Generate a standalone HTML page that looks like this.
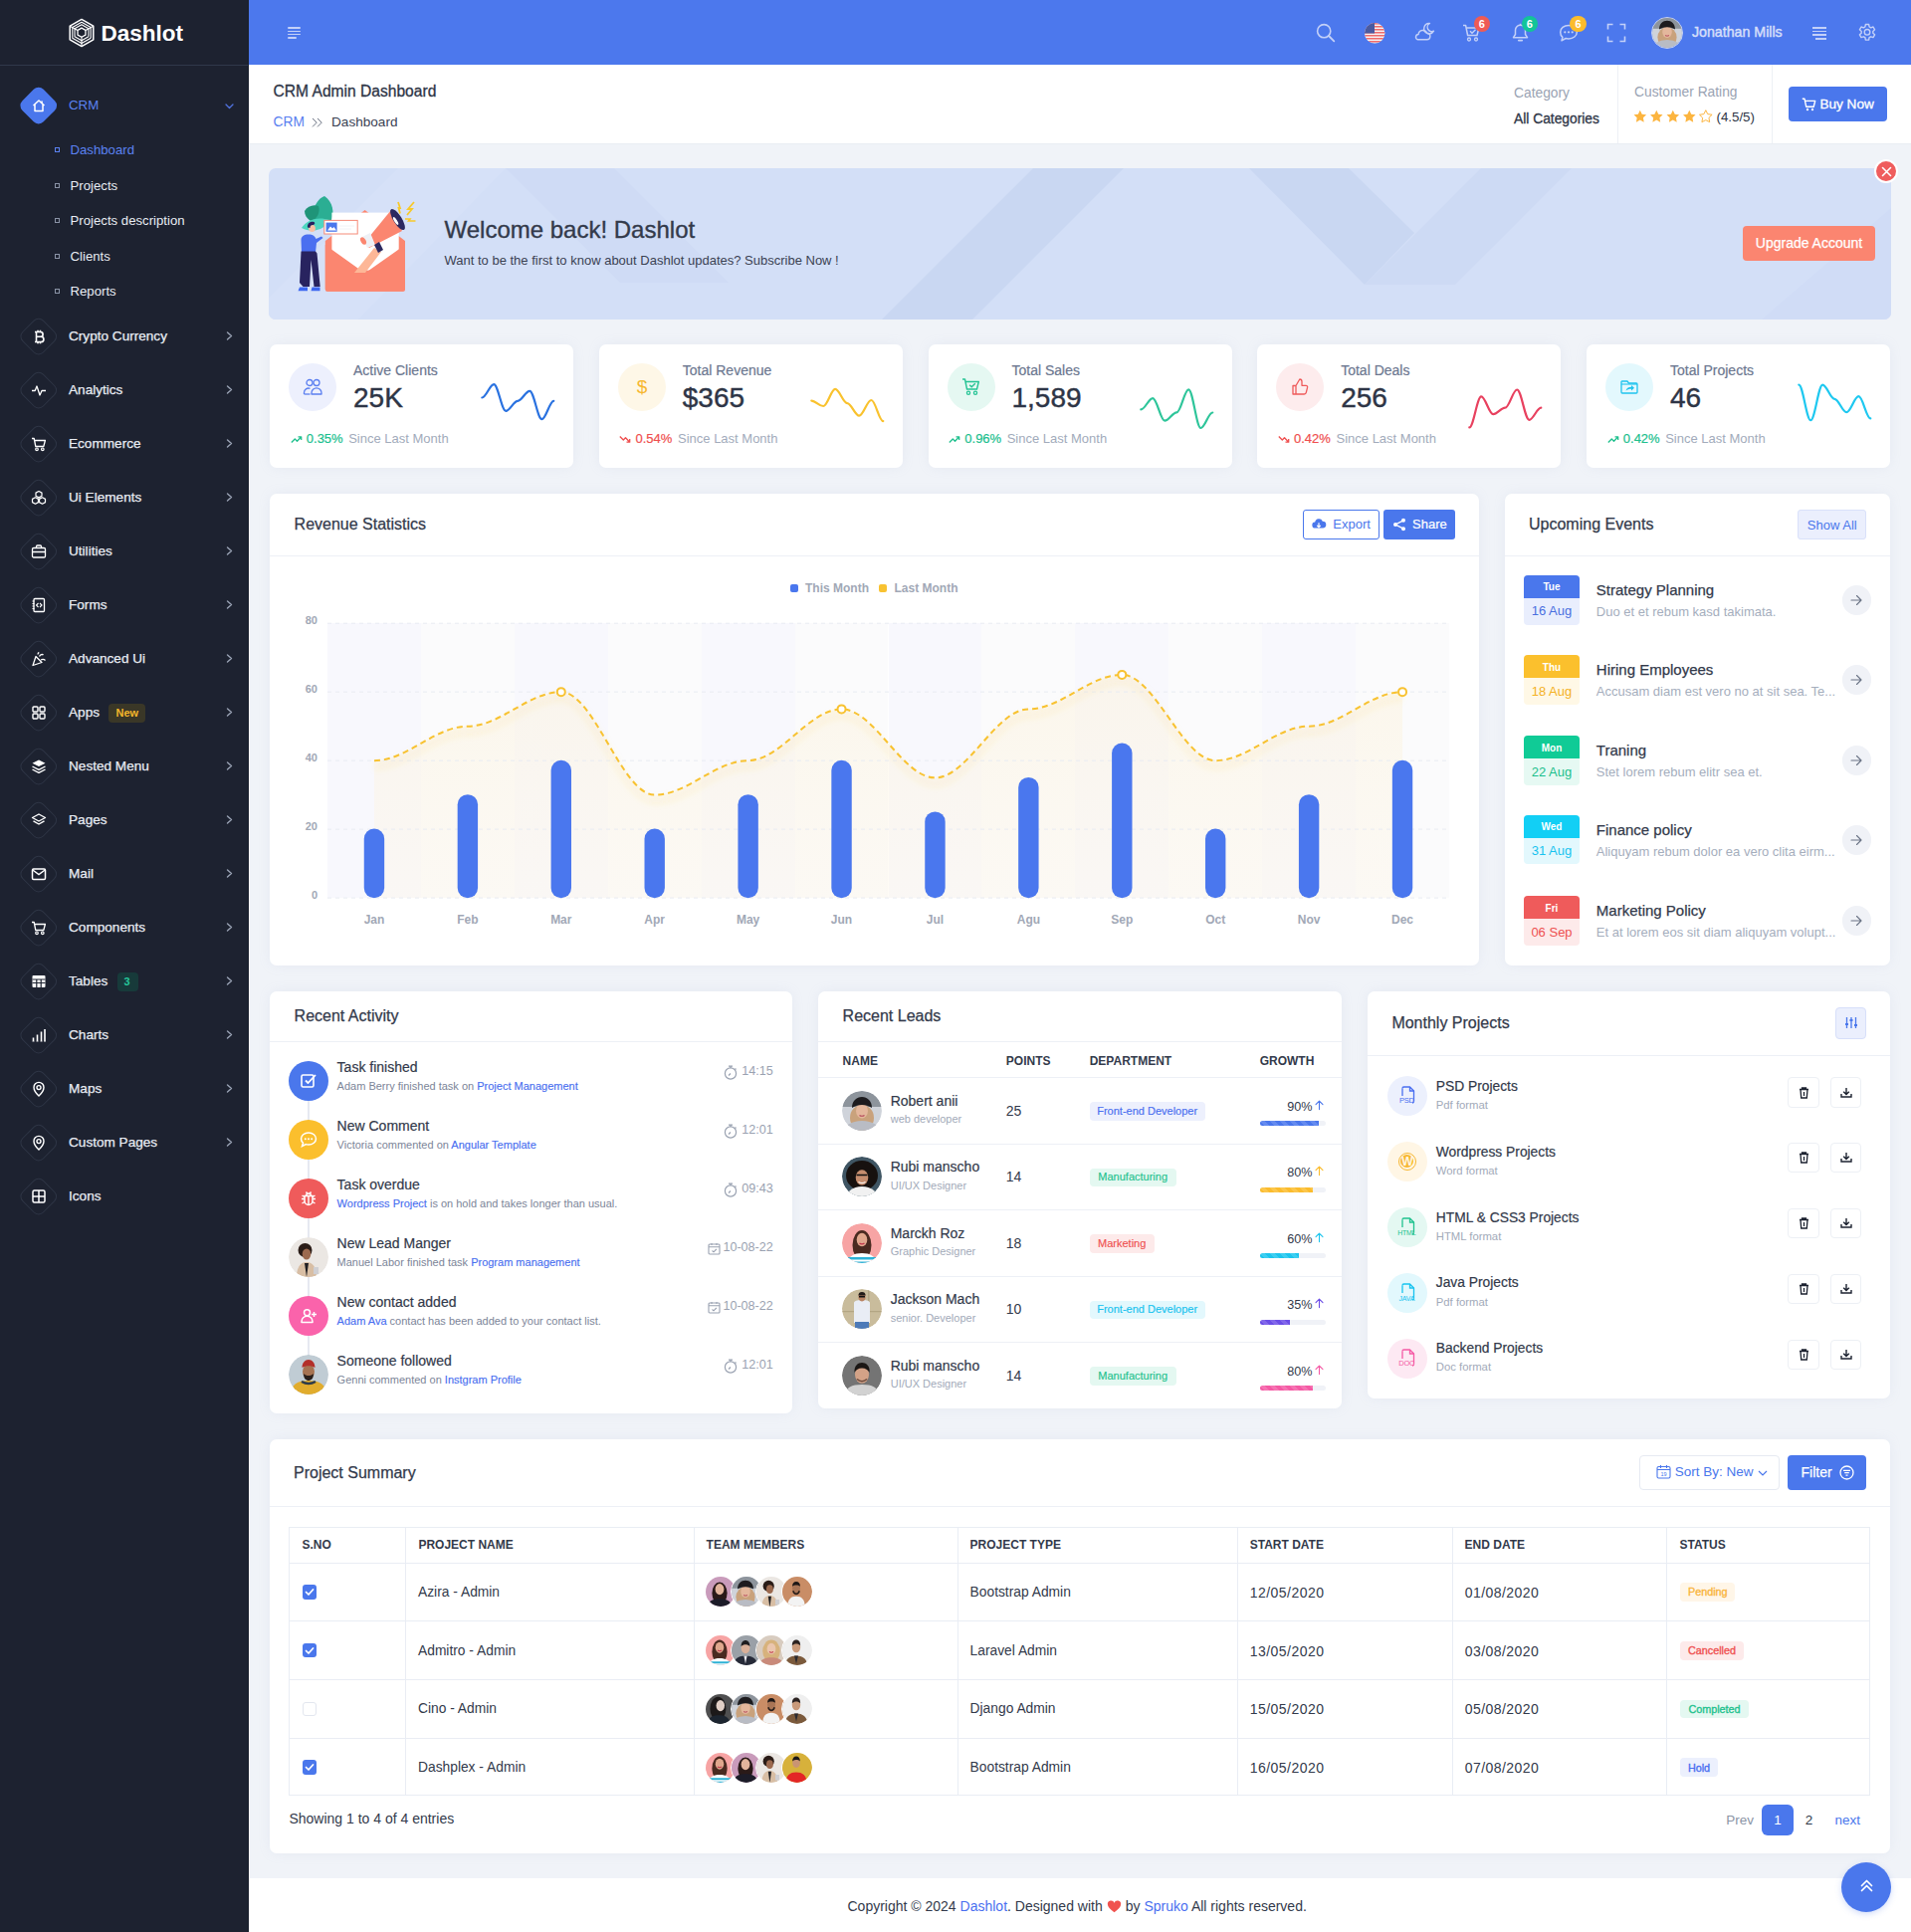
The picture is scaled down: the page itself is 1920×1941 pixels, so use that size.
<!DOCTYPE html>
<html><head><meta charset="utf-8"><title>Dashlot CRM Dashboard</title>
<style>
*{box-sizing:border-box;margin:0;padding:0}
html,body{width:1920px;height:1941px;overflow:hidden}
body{background:#f0f3f8;font-family:"Liberation Sans",sans-serif;color:#333b4c;position:relative;font-size:14px}
svg{display:block;overflow:visible}
.card{position:absolute;background:#fff;border-radius:7px;box-shadow:0 0 12px rgba(170,180,205,0.13)}
</style></head>
<body>
<!-- sidebar -->
<div style="position:absolute;left:0.0px;top:0.0px;width:250.0px;height:1941.0px;background:#1d2230;"></div>
<div style="position:absolute;left:248.0px;top:0.0px;width:1.0px;height:1941.0px;background:#1a212d;"></div>
<div style="position:absolute;left:250.0px;top:65.0px;width:1.0px;height:1876.0px;background:#fff;"></div>
<div style="position:absolute;left:0.0px;top:65.0px;width:249.0px;height:1.0px;background:#30384a;"></div>
<svg style="position:absolute;left:69.1px;top:18.8px;" width="26" height="28" viewBox="0 0 26 28" fill="none"><path d="M13.00 0.40 L24.78 7.20 L24.78 20.80 L13.00 27.60 L1.22 20.80 L1.22 7.20 Z" stroke="#fff" stroke-width="1.5" fill="none" stroke-linejoin="round"/><path d="M13.00 9.10 L16.98 11.40 L16.98 16.00 L13.00 18.30 L9.02 16.00 L9.02 11.40 Z" stroke="#fff" stroke-width="1.3" fill="none"/><path d="M3.79 8.59 L13.00 3.27 L22.21 8.59 L22.21 19.22" stroke="#fff" stroke-width="1.1" fill="none" stroke-linejoin="round"/><path d="M3.79 8.59 L3.79 19.22 L13.00 24.53 L22.21 19.22" stroke="#fff" stroke-width="1.1" fill="none" stroke-linejoin="round"/><path d="M6.05 9.80 L13.00 5.79 L19.95 9.80 L19.95 17.82" stroke="#fff" stroke-width="1.1" fill="none" stroke-linejoin="round"/><path d="M6.05 9.80 L6.05 17.82 L13.00 21.83 L19.95 17.82" stroke="#fff" stroke-width="1.1" fill="none" stroke-linejoin="round"/><path d="M9.02 11.40 L1.22 7.20 M16.98 11.40 L24.78 7.20 M13.00 18.30 L13.00 27.60" stroke="#fff" stroke-width="1.1"/></svg>
<div style="position:absolute;left:101.5px;top:22.60px;font-size:22.5px;line-height:22.5px;color:#fff;font-weight:bold;white-space:nowrap;">Dashlot</div>
<div style="position:absolute;left:24.2px;top:91.2px;width:29.5px;height:29.5px;border-radius:7px;transform:rotate(45deg);background:#4a77ec;"></div>
<svg style="position:absolute;left:31.0px;top:98.0px;" width="16" height="16" viewBox="0 0 16 16" fill="none"><path d="M2.5 8L8 3l5.5 5M4 6.8V13.5h8V6.8" stroke="#fff" stroke-width="1.5" stroke-linejoin="round"/><path d="M11 3.5v2.2" stroke="#fff" stroke-width="1.6"/></svg>
<div style="position:absolute;left:69.0px;top:98.99px;font-size:13.3px;line-height:13.3px;color:#5b82f2;white-space:nowrap;">CRM</div>
<svg style="position:absolute;left:225.5px;top:104.0px;" width="9" height="6" viewBox="0 0 9 6" fill="none"><path d="M1 1l3.5 3.5L8 1" stroke="#5173e0" stroke-width="1.3" stroke-linecap="round" stroke-linejoin="round"/></svg>
<div style="position:absolute;left:55.0px;top:147.9px;width:5.0px;height:5.0px;border:1.2px solid #5b82f2;"></div>
<div style="position:absolute;left:70.5px;top:144.28px;font-size:13.2px;line-height:13.2px;color:#5b82f2;white-space:nowrap;">Dashboard</div>
<div style="position:absolute;left:55.0px;top:183.7px;width:5.0px;height:5.0px;border:1.2px solid #8a93a6;"></div>
<div style="position:absolute;left:70.5px;top:180.08px;font-size:13.2px;line-height:13.2px;color:#e8ecf3;white-space:nowrap;">Projects</div>
<div style="position:absolute;left:55.0px;top:218.8px;width:5.0px;height:5.0px;border:1.2px solid #8a93a6;"></div>
<div style="position:absolute;left:70.5px;top:215.18px;font-size:13.2px;line-height:13.2px;color:#e8ecf3;white-space:nowrap;">Projects description</div>
<div style="position:absolute;left:55.0px;top:254.6px;width:5.0px;height:5.0px;border:1.2px solid #8a93a6;"></div>
<div style="position:absolute;left:70.5px;top:250.98px;font-size:13.2px;line-height:13.2px;color:#e8ecf3;white-space:nowrap;">Clients</div>
<div style="position:absolute;left:55.0px;top:289.7px;width:5.0px;height:5.0px;border:1.2px solid #8a93a6;"></div>
<div style="position:absolute;left:70.5px;top:286.08px;font-size:13.2px;line-height:13.2px;color:#e8ecf3;white-space:nowrap;">Reports</div>
<div style="position:absolute;left:24.2px;top:323.2px;width:29.5px;height:29.5px;border-radius:7px;transform:rotate(45deg);border:1px solid #2e3545;"></div>
<svg style="position:absolute;left:31.0px;top:330.0px;" width="16" height="16" viewBox="0 0 16 16" fill="none"><path d="M5.5 3.5h4.2a2.4 2.4 0 0 1 0 4.8H5.5zM5.5 8.3h4.8a2.6 2.6 0 0 1 0 5.2H5.5zM5.5 3.5v10M4 3.5h2M4 13.5h2M7 1.8v1.7M9.5 1.8v1.7M7 13.5v1.7M9.5 13.5v1.7" stroke="#fff" stroke-width="1.6"/></svg>
<div style="position:absolute;left:69.0px;top:330.64px;font-size:13.6px;line-height:13.6px;color:#e8ecf3;white-space:nowrap;-webkit-text-stroke:0.25px #e8ecf3;">Crypto Currency</div>
<svg style="position:absolute;left:227.0px;top:332.7px;" width="7" height="9" viewBox="0 0 7 9" fill="none"><path d="M1.5 1l4 3.5-4 3.5" stroke="#9aa3b5" stroke-width="1.4" stroke-linecap="round" stroke-linejoin="round"/></svg>
<div style="position:absolute;left:24.2px;top:377.2px;width:29.5px;height:29.5px;border-radius:7px;transform:rotate(45deg);border:1px solid #2e3545;"></div>
<svg style="position:absolute;left:31.0px;top:384.0px;" width="16" height="16" viewBox="0 0 16 16" fill="none"><path d="M1 8.5h3.2l1.8-4.5 3 9 2-4.5H15" stroke="#fff" stroke-width="1.3" stroke-linejoin="round"/></svg>
<div style="position:absolute;left:69.0px;top:384.64px;font-size:13.6px;line-height:13.6px;color:#e8ecf3;white-space:nowrap;-webkit-text-stroke:0.25px #e8ecf3;">Analytics</div>
<svg style="position:absolute;left:227.0px;top:386.7px;" width="7" height="9" viewBox="0 0 7 9" fill="none"><path d="M1.5 1l4 3.5-4 3.5" stroke="#9aa3b5" stroke-width="1.4" stroke-linecap="round" stroke-linejoin="round"/></svg>
<div style="position:absolute;left:24.2px;top:431.2px;width:29.5px;height:29.5px;border-radius:7px;transform:rotate(45deg);border:1px solid #2e3545;"></div>
<svg style="position:absolute;left:31.0px;top:438.0px;" width="16" height="16" viewBox="0 0 16 16" fill="none"><path d="M1 2.5h2.2l1.6 8h8l1.6-6H4.2" stroke="#fff" stroke-width="1.3" stroke-linejoin="round"/><circle cx="6" cy="13.3" r="1.3" stroke="#fff" stroke-width="1.2"/><circle cx="11.8" cy="13.3" r="1.3" stroke="#fff" stroke-width="1.2"/></svg>
<div style="position:absolute;left:69.0px;top:438.64px;font-size:13.6px;line-height:13.6px;color:#e8ecf3;white-space:nowrap;-webkit-text-stroke:0.25px #e8ecf3;">Ecommerce</div>
<svg style="position:absolute;left:227.0px;top:440.7px;" width="7" height="9" viewBox="0 0 7 9" fill="none"><path d="M1.5 1l4 3.5-4 3.5" stroke="#9aa3b5" stroke-width="1.4" stroke-linecap="round" stroke-linejoin="round"/></svg>
<div style="position:absolute;left:24.2px;top:485.2px;width:29.5px;height:29.5px;border-radius:7px;transform:rotate(45deg);border:1px solid #2e3545;"></div>
<svg style="position:absolute;left:31.0px;top:492.0px;" width="16" height="16" viewBox="0 0 16 16" fill="none"><path d="M8 1.5l3 1.6v3.2L8 7.9 5 6.3V3.1zM4.5 7.8l3 1.6v3.2l-3 1.6-3-1.6V9.4zM11.5 7.8l3 1.6v3.2l-3 1.6-3-1.6V9.4z" stroke="#fff" stroke-width="1.2" stroke-linejoin="round"/></svg>
<div style="position:absolute;left:69.0px;top:492.64px;font-size:13.6px;line-height:13.6px;color:#e8ecf3;white-space:nowrap;-webkit-text-stroke:0.25px #e8ecf3;">Ui Elements</div>
<svg style="position:absolute;left:227.0px;top:494.7px;" width="7" height="9" viewBox="0 0 7 9" fill="none"><path d="M1.5 1l4 3.5-4 3.5" stroke="#9aa3b5" stroke-width="1.4" stroke-linecap="round" stroke-linejoin="round"/></svg>
<div style="position:absolute;left:24.2px;top:539.2px;width:29.5px;height:29.5px;border-radius:7px;transform:rotate(45deg);border:1px solid #2e3545;"></div>
<svg style="position:absolute;left:31.0px;top:546.0px;" width="16" height="16" viewBox="0 0 16 16" fill="none"><rect x="1.5" y="4.5" width="13" height="9.5" rx="1.3" stroke="#fff" stroke-width="1.3"/><path d="M5.5 4.5V3a1 1 0 0 1 1-1h3a1 1 0 0 1 1 1v1.5M1.5 8.5h13" stroke="#fff" stroke-width="1.3"/></svg>
<div style="position:absolute;left:69.0px;top:546.64px;font-size:13.6px;line-height:13.6px;color:#e8ecf3;white-space:nowrap;-webkit-text-stroke:0.25px #e8ecf3;">Utilities</div>
<svg style="position:absolute;left:227.0px;top:548.7px;" width="7" height="9" viewBox="0 0 7 9" fill="none"><path d="M1.5 1l4 3.5-4 3.5" stroke="#9aa3b5" stroke-width="1.4" stroke-linecap="round" stroke-linejoin="round"/></svg>
<div style="position:absolute;left:24.2px;top:593.2px;width:29.5px;height:29.5px;border-radius:7px;transform:rotate(45deg);border:1px solid #2e3545;"></div>
<svg style="position:absolute;left:31.0px;top:600.0px;" width="16" height="16" viewBox="0 0 16 16" fill="none"><rect x="3" y="1.5" width="10.5" height="13" rx="1" stroke="#fff" stroke-width="1.3"/><path d="M1.5 4h2M1.5 6.5h2M1.5 9h2M1.5 11.5h2M7.5 6l-2 2 2 2M9 6l2 2-2 2" stroke="#fff" stroke-width="1.1"/></svg>
<div style="position:absolute;left:69.0px;top:600.64px;font-size:13.6px;line-height:13.6px;color:#e8ecf3;white-space:nowrap;-webkit-text-stroke:0.25px #e8ecf3;">Forms</div>
<svg style="position:absolute;left:227.0px;top:602.7px;" width="7" height="9" viewBox="0 0 7 9" fill="none"><path d="M1.5 1l4 3.5-4 3.5" stroke="#9aa3b5" stroke-width="1.4" stroke-linecap="round" stroke-linejoin="round"/></svg>
<div style="position:absolute;left:24.2px;top:647.2px;width:29.5px;height:29.5px;border-radius:7px;transform:rotate(45deg);border:1px solid #2e3545;"></div>
<svg style="position:absolute;left:31.0px;top:654.0px;" width="16" height="16" viewBox="0 0 16 16" fill="none"><path d="M2 14.5l3-9 6 6z" stroke="#fff" stroke-width="1.3" stroke-linejoin="round"/><path d="M8.5 5.5c1-2 3-2.5 4-1.5M10 9c2-1 3.5-.5 4.5.5M7 3.5c0-1 .5-1.8 1.3-2" stroke="#fff" stroke-width="1.3"/></svg>
<div style="position:absolute;left:69.0px;top:654.64px;font-size:13.6px;line-height:13.6px;color:#e8ecf3;white-space:nowrap;-webkit-text-stroke:0.25px #e8ecf3;">Advanced Ui</div>
<svg style="position:absolute;left:227.0px;top:656.7px;" width="7" height="9" viewBox="0 0 7 9" fill="none"><path d="M1.5 1l4 3.5-4 3.5" stroke="#9aa3b5" stroke-width="1.4" stroke-linecap="round" stroke-linejoin="round"/></svg>
<div style="position:absolute;left:24.2px;top:701.2px;width:29.5px;height:29.5px;border-radius:7px;transform:rotate(45deg);border:1px solid #2e3545;"></div>
<svg style="position:absolute;left:31.0px;top:708.0px;" width="16" height="16" viewBox="0 0 16 16" fill="none"><rect x="2" y="2" width="5" height="5" rx="1" stroke="#fff" stroke-width="1.4"/><rect x="9" y="2" width="5" height="5" rx="1" stroke="#fff" stroke-width="1.4"/><rect x="2" y="9" width="5" height="5" rx="1" stroke="#fff" stroke-width="1.4"/><rect x="9" y="9" width="5" height="5" rx="1" stroke="#fff" stroke-width="1.4"/></svg>
<div style="position:absolute;left:69.0px;top:708.64px;font-size:13.6px;line-height:13.6px;color:#e8ecf3;white-space:nowrap;-webkit-text-stroke:0.25px #e8ecf3;">Apps</div>
<svg style="position:absolute;left:227.0px;top:710.7px;" width="7" height="9" viewBox="0 0 7 9" fill="none"><path d="M1.5 1l4 3.5-4 3.5" stroke="#9aa3b5" stroke-width="1.4" stroke-linecap="round" stroke-linejoin="round"/></svg>
<div style="position:absolute;left:108.5px;top:706.5px;width:37.0px;height:19.0px;background:#3a3727;border-radius:4px;"></div>
<div style="position:absolute;left:116.5px;top:710.54px;font-size:11px;line-height:11px;color:#f5b62b;font-weight:bold;white-space:nowrap;">New</div>
<div style="position:absolute;left:24.2px;top:755.2px;width:29.5px;height:29.5px;border-radius:7px;transform:rotate(45deg);border:1px solid #2e3545;"></div>
<svg style="position:absolute;left:31.0px;top:762.0px;" width="16" height="16" viewBox="0 0 16 16" fill="none"><path d="M8 1.5l6.5 3.3L8 8.1 1.5 4.8z" fill="#fff"/><path d="M1.5 8l6.5 3.3L14.5 8M1.5 11l6.5 3.3 6.5-3.3" stroke="#fff" stroke-width="1.4" stroke-linejoin="round"/></svg>
<div style="position:absolute;left:69.0px;top:762.64px;font-size:13.6px;line-height:13.6px;color:#e8ecf3;white-space:nowrap;-webkit-text-stroke:0.25px #e8ecf3;">Nested Menu</div>
<svg style="position:absolute;left:227.0px;top:764.7px;" width="7" height="9" viewBox="0 0 7 9" fill="none"><path d="M1.5 1l4 3.5-4 3.5" stroke="#9aa3b5" stroke-width="1.4" stroke-linecap="round" stroke-linejoin="round"/></svg>
<div style="position:absolute;left:24.2px;top:809.2px;width:29.5px;height:29.5px;border-radius:7px;transform:rotate(45deg);border:1px solid #2e3545;"></div>
<svg style="position:absolute;left:31.0px;top:816.0px;" width="16" height="16" viewBox="0 0 16 16" fill="none"><path d="M8 2l6.5 3.5L8 9 1.5 5.5z" stroke="#fff" stroke-width="1.4" stroke-linejoin="round"/><path d="M2.5 8.8L8 12l5.5-3.2" stroke="#fff" stroke-width="1.4" stroke-linejoin="round"/></svg>
<div style="position:absolute;left:69.0px;top:816.64px;font-size:13.6px;line-height:13.6px;color:#e8ecf3;white-space:nowrap;-webkit-text-stroke:0.25px #e8ecf3;">Pages</div>
<svg style="position:absolute;left:227.0px;top:818.7px;" width="7" height="9" viewBox="0 0 7 9" fill="none"><path d="M1.5 1l4 3.5-4 3.5" stroke="#9aa3b5" stroke-width="1.4" stroke-linecap="round" stroke-linejoin="round"/></svg>
<div style="position:absolute;left:24.2px;top:863.2px;width:29.5px;height:29.5px;border-radius:7px;transform:rotate(45deg);border:1px solid #2e3545;"></div>
<svg style="position:absolute;left:31.0px;top:870.0px;" width="16" height="16" viewBox="0 0 16 16" fill="none"><rect x="1.5" y="3" width="13" height="10.5" rx="1.2" stroke="#fff" stroke-width="1.5"/><path d="M1.8 4l6.2 4.5L14.2 4" stroke="#fff" stroke-width="1.5"/></svg>
<div style="position:absolute;left:69.0px;top:870.64px;font-size:13.6px;line-height:13.6px;color:#e8ecf3;white-space:nowrap;-webkit-text-stroke:0.25px #e8ecf3;">Mail</div>
<svg style="position:absolute;left:227.0px;top:872.7px;" width="7" height="9" viewBox="0 0 7 9" fill="none"><path d="M1.5 1l4 3.5-4 3.5" stroke="#9aa3b5" stroke-width="1.4" stroke-linecap="round" stroke-linejoin="round"/></svg>
<div style="position:absolute;left:24.2px;top:917.2px;width:29.5px;height:29.5px;border-radius:7px;transform:rotate(45deg);border:1px solid #2e3545;"></div>
<svg style="position:absolute;left:31.0px;top:924.0px;" width="16" height="16" viewBox="0 0 16 16" fill="none"><path d="M1 2.5h2.2l1.6 8h8l1.6-6H4.2" stroke="#fff" stroke-width="1.3" stroke-linejoin="round"/><circle cx="6" cy="13.3" r="1.3" stroke="#fff" stroke-width="1.2"/><circle cx="11.8" cy="13.3" r="1.3" stroke="#fff" stroke-width="1.2"/></svg>
<div style="position:absolute;left:69.0px;top:924.64px;font-size:13.6px;line-height:13.6px;color:#e8ecf3;white-space:nowrap;-webkit-text-stroke:0.25px #e8ecf3;">Components</div>
<svg style="position:absolute;left:227.0px;top:926.7px;" width="7" height="9" viewBox="0 0 7 9" fill="none"><path d="M1.5 1l4 3.5-4 3.5" stroke="#9aa3b5" stroke-width="1.4" stroke-linecap="round" stroke-linejoin="round"/></svg>
<div style="position:absolute;left:24.2px;top:971.2px;width:29.5px;height:29.5px;border-radius:7px;transform:rotate(45deg);border:1px solid #2e3545;"></div>
<svg style="position:absolute;left:31.0px;top:978.0px;" width="16" height="16" viewBox="0 0 16 16" fill="none"><rect x="1.5" y="2" width="13" height="12" rx="1" fill="#fff"/><path d="M1.5 6h13M1.5 9.5h13M5.8 6v8M10.2 6v8" stroke="#1c2230" stroke-width="1.2"/></svg>
<div style="position:absolute;left:69.0px;top:978.64px;font-size:13.6px;line-height:13.6px;color:#e8ecf3;white-space:nowrap;-webkit-text-stroke:0.25px #e8ecf3;">Tables</div>
<svg style="position:absolute;left:227.0px;top:980.7px;" width="7" height="9" viewBox="0 0 7 9" fill="none"><path d="M1.5 1l4 3.5-4 3.5" stroke="#9aa3b5" stroke-width="1.4" stroke-linecap="round" stroke-linejoin="round"/></svg>
<div style="position:absolute;left:117.5px;top:976.5px;width:21.0px;height:19.0px;background:#173a3a;border-radius:4px;"></div>
<div style="position:absolute;left:124.5px;top:980.54px;font-size:11px;line-height:11px;color:#26c79a;font-weight:bold;white-space:nowrap;">3</div>
<div style="position:absolute;left:24.2px;top:1025.2px;width:29.5px;height:29.5px;border-radius:7px;transform:rotate(45deg);border:1px solid #2e3545;"></div>
<svg style="position:absolute;left:31.0px;top:1032.0px;" width="16" height="16" viewBox="0 0 16 16" fill="none"><path d="M2.5 14V10.5M6.5 14V7.5M10.5 14V4.5M14 14V2" stroke="#fff" stroke-width="1.6"/><path d="M1.5 14.3h2M5.5 14.3h2M9.5 14.3h2M13 14.3h2" stroke="#fff" stroke-width="0.6"/></svg>
<div style="position:absolute;left:69.0px;top:1032.64px;font-size:13.6px;line-height:13.6px;color:#e8ecf3;white-space:nowrap;-webkit-text-stroke:0.25px #e8ecf3;">Charts</div>
<svg style="position:absolute;left:227.0px;top:1034.7px;" width="7" height="9" viewBox="0 0 7 9" fill="none"><path d="M1.5 1l4 3.5-4 3.5" stroke="#9aa3b5" stroke-width="1.4" stroke-linecap="round" stroke-linejoin="round"/></svg>
<div style="position:absolute;left:24.2px;top:1079.2px;width:29.5px;height:29.5px;border-radius:7px;transform:rotate(45deg);border:1px solid #2e3545;"></div>
<svg style="position:absolute;left:31.0px;top:1086.0px;" width="16" height="16" viewBox="0 0 16 16" fill="none"><path d="M8 15s5-4.8 5-8.6a5 5 0 0 0-10 0C3 10.2 8 15 8 15z" stroke="#fff" stroke-width="1.4"/><circle cx="8" cy="6.6" r="2" stroke="#fff" stroke-width="1.4"/></svg>
<div style="position:absolute;left:69.0px;top:1086.64px;font-size:13.6px;line-height:13.6px;color:#e8ecf3;white-space:nowrap;-webkit-text-stroke:0.25px #e8ecf3;">Maps</div>
<svg style="position:absolute;left:227.0px;top:1088.7px;" width="7" height="9" viewBox="0 0 7 9" fill="none"><path d="M1.5 1l4 3.5-4 3.5" stroke="#9aa3b5" stroke-width="1.4" stroke-linecap="round" stroke-linejoin="round"/></svg>
<div style="position:absolute;left:24.2px;top:1133.2px;width:29.5px;height:29.5px;border-radius:7px;transform:rotate(45deg);border:1px solid #2e3545;"></div>
<svg style="position:absolute;left:31.0px;top:1140.0px;" width="16" height="16" viewBox="0 0 16 16" fill="none"><path d="M8 15s5-4.8 5-8.6a5 5 0 0 0-10 0C3 10.2 8 15 8 15z" stroke="#fff" stroke-width="1.4"/><circle cx="8" cy="6.6" r="2" stroke="#fff" stroke-width="1.4"/></svg>
<div style="position:absolute;left:69.0px;top:1140.64px;font-size:13.6px;line-height:13.6px;color:#e8ecf3;white-space:nowrap;-webkit-text-stroke:0.25px #e8ecf3;">Custom Pages</div>
<svg style="position:absolute;left:227.0px;top:1142.7px;" width="7" height="9" viewBox="0 0 7 9" fill="none"><path d="M1.5 1l4 3.5-4 3.5" stroke="#9aa3b5" stroke-width="1.4" stroke-linecap="round" stroke-linejoin="round"/></svg>
<div style="position:absolute;left:24.2px;top:1187.2px;width:29.5px;height:29.5px;border-radius:7px;transform:rotate(45deg);border:1px solid #2e3545;"></div>
<svg style="position:absolute;left:31.0px;top:1194.0px;" width="16" height="16" viewBox="0 0 16 16" fill="none"><rect x="2" y="2" width="12" height="12" rx="1.5" stroke="#fff" stroke-width="1.5"/><path d="M2 8h12M8 2v12M5 5h0M11 5h0" stroke="#fff" stroke-width="1.5"/></svg>
<div style="position:absolute;left:69.0px;top:1194.64px;font-size:13.6px;line-height:13.6px;color:#e8ecf3;white-space:nowrap;-webkit-text-stroke:0.25px #e8ecf3;">Icons</div>
<!-- header -->
<div style="position:absolute;left:250.0px;top:0.0px;width:1670.0px;height:65.0px;background:#4c78ed;"></div>
<div style="position:absolute;left:289.0px;top:27.1px;width:13.3px;height:1.5px;background:#c3d0f8;border-radius:1px;"></div>
<div style="position:absolute;left:289.0px;top:30.6px;width:13.3px;height:1.5px;background:#c3d0f8;border-radius:1px;"></div>
<div style="position:absolute;left:289.0px;top:33.9px;width:13.3px;height:1.5px;background:#c3d0f8;border-radius:1px;"></div>
<div style="position:absolute;left:289.0px;top:37.3px;width:8.6px;height:1.5px;background:#c3d0f8;border-radius:1px;"></div>
<svg style="position:absolute;left:1322.0px;top:23.0px;" width="20" height="20" viewBox="0 0 20 20" fill="none"><circle cx="8.2" cy="8.2" r="6.6" stroke="#c3d0f8" stroke-width="1.6"/><path d="M13 13l5.3 5.3" stroke="#c3d0f8" stroke-width="1.8" stroke-linecap="round"/></svg>
<svg style="position:absolute;left:1371.0px;top:22.7px;" width="21" height="21" viewBox="0 0 21 21" fill="none"><clipPath id="fc"><circle cx="10.2" cy="10.2" r="10.2"/></clipPath><g clip-path="url(#fc)"><rect width="21" height="21" fill="#f4f4f6"/><rect y="0.0" width="21" height="1.55" fill="#ef6b6b"/><rect y="3.0" width="21" height="1.55" fill="#ef6b6b"/><rect y="6.0" width="21" height="1.55" fill="#ef6b6b"/><rect y="9.0" width="21" height="1.55" fill="#ef6b6b"/><rect y="12.0" width="21" height="1.55" fill="#ef6b6b"/><rect y="15.0" width="21" height="1.55" fill="#ef6b6b"/><rect y="18.0" width="21" height="1.55" fill="#ef6b6b"/><rect width="10" height="10.5" fill="#4a5aa0"/></g></svg>
<svg style="position:absolute;left:1420.0px;top:22.0px;" width="21" height="20" viewBox="0 0 21 20" fill="none"><path d="M4.5 17.8h9a3.3 3.3 0 0 0 .2-6.6 4.5 4.5 0 0 0-8.6 1.3 2.7 2.7 0 0 0-.6 5.3z" stroke="#c3d0f8" stroke-width="1.4" stroke-linejoin="round"/><path d="M16.5 1.5A5.2 5.2 0 1 0 20.5 9.2 4.1 4.1 0 0 1 16.5 1.5z" stroke="#c3d0f8" stroke-width="1.4" stroke-linejoin="round"/></svg>
<svg style="position:absolute;left:1469.0px;top:24.0px;" width="19" height="19" viewBox="0 0 19 19" fill="none"><path d="M1 1.5h2.6l2 10h9.4l1.8-7.5H4.4" stroke="#c3d0f8" stroke-width="1.5" stroke-linejoin="round"/><circle cx="7" cy="15.5" r="1.5" stroke="#c3d0f8" stroke-width="1.3"/><circle cx="14" cy="15.5" r="1.5" stroke="#c3d0f8" stroke-width="1.3"/><path d="M8 7.3l2 2 3.5-3.5" stroke="#c3d0f8" stroke-width="1.4"/></svg>
<svg style="position:absolute;left:1518.0px;top:23.0px;" width="19" height="20" viewBox="0 0 19 20" fill="none"><path d="M9.5 2.2a5 5 0 0 1 5 5v4.3l2 3.2H2.5l2-3.2V7.2a5 5 0 0 1 5-5z" stroke="#c3d0f8" stroke-width="1.5" stroke-linejoin="round"/><path d="M7.8 17.6h3.4" stroke="#c3d0f8" stroke-width="1.8" stroke-linecap="round"/><path d="M9.5 0.8v1.4" stroke="#c3d0f8" stroke-width="1.4"/></svg>
<svg style="position:absolute;left:1566.0px;top:24.0px;" width="20" height="19" viewBox="0 0 20 19" fill="none"><path d="M10 1.5c4.7 0 8.3 2.9 8.3 6.7s-3.6 6.7-8.3 6.7c-1 0-2-.1-2.9-.4L3 16.8l.9-3.4C2.4 12.2 1.7 10.3 1.7 8.2 1.7 4.4 5.3 1.5 10 1.5z" stroke="#c3d0f8" stroke-width="1.5" stroke-linejoin="round"/><circle cx="6.3" cy="8.3" r="1.1" fill="#c3d0f8"/><circle cx="10" cy="8.3" r="1.1" fill="#c3d0f8"/><circle cx="13.7" cy="8.3" r="1.1" fill="#c3d0f8"/></svg>
<svg style="position:absolute;left:1614.0px;top:23.0px;" width="20" height="20" viewBox="0 0 20 20" fill="none"><path d="M1.5 6.5V1.5h5M13.5 1.5h5v5M18.5 13.5v5h-5M6.5 18.5h-5v-5" stroke="#c3d0f8" stroke-width="1.6"/></svg>
<div style="position:absolute;left:1480.5px;top:15.9px;width:16.5px;height:16.5px;border-radius:50%;background:#ef5b55;"></div>
<div style="position:absolute;left:1288.7px;width:400px;text-align:center;top:19.44px;font-size:11px;line-height:11px;color:#fff;font-weight:bold;white-space:nowrap;">6</div>
<div style="position:absolute;left:1528.5px;top:15.9px;width:16.5px;height:16.5px;border-radius:50%;background:#12c499;"></div>
<div style="position:absolute;left:1336.8px;width:400px;text-align:center;top:19.44px;font-size:11px;line-height:11px;color:#fff;font-weight:bold;white-space:nowrap;">6</div>
<div style="position:absolute;left:1577.2px;top:15.9px;width:16.5px;height:16.5px;border-radius:50%;background:#fbbc2d;"></div>
<div style="position:absolute;left:1385.5px;width:400px;text-align:center;top:19.44px;font-size:11px;line-height:11px;color:#fff;font-weight:bold;white-space:nowrap;">6</div>
<div style="position:absolute;left:1659.0px;top:16.9px;width:32px;height:32px;border-radius:50%;overflow:hidden;box-sizing:border-box;border:1px solid #c9d3f3;"><div style="margin:-1.5px"><svg width="32" height="32" viewBox="0 0 40 40" style="display:block"><defs><clipPath id="av1"><circle cx="20" cy="20" r="20"/></clipPath></defs><g clip-path="url(#av1)"><rect width="40" height="40" fill="#cfd3da"/><rect x="0" y="0" width="40" height="16" fill="#8d949c"/><ellipse cx="20" cy="27" rx="12" ry="13" fill="#c9a27c"/><ellipse cx="20" cy="42" rx="19" ry="12" fill="#b9bcc4"/><ellipse cx="20" cy="20" rx="6" ry="7.5" fill="#e4b79c"/><path d="M10 17c0-7 4.5-11 10-11s10 4 10 11c-3-2-6.5-3-10-3s-7 1-10 3z" fill="#1d1b1e"/><path d="M17.5 24.5q2.5 1.5 5 0" stroke="#b4485a" stroke-width="1.2" fill="none"/></g></svg></div></div>
<div style="position:absolute;left:1700.0px;top:25.33px;font-size:14.2px;line-height:14.2px;color:#d5defa;white-space:nowrap;-webkit-text-stroke:0.45px #d5defa;">Jonathan Mills</div>
<div style="position:absolute;left:1821.0px;top:27.2px;width:14.0px;height:1.6px;background:#c3d0f8;"></div>
<div style="position:absolute;left:1821.0px;top:30.8px;width:14.0px;height:1.6px;background:#c3d0f8;"></div>
<div style="position:absolute;left:1821.0px;top:34.4px;width:14.0px;height:1.6px;background:#c3d0f8;"></div>
<div style="position:absolute;left:1824.0px;top:38.0px;width:11.0px;height:1.6px;background:#c3d0f8;"></div>
<svg style="position:absolute;left:1866.0px;top:23.0px;" width="20" height="20" viewBox="0 0 20 20" fill="none"><path d="M8.4 1.5h3.2l.5 2.4 1.6.9 2.3-.8 1.6 2.8-1.8 1.6v1.8l1.8 1.6-1.6 2.8-2.3-.8-1.6.9-.5 2.4H8.4l-.5-2.4-1.6-.9-2.3.8-1.6-2.8L4.2 10.2V8.4L2.4 6.8 4 4l2.3.8 1.6-.9z" stroke="#c3d0f8" stroke-width="1.4" stroke-linejoin="round"/><circle cx="10" cy="9.3" r="2.8" stroke="#c3d0f8" stroke-width="1.4"/></svg>
<!-- top -->
<div style="position:absolute;left:250.0px;top:65.0px;width:1670.0px;height:79.0px;background:#fff;"></div>
<div style="position:absolute;left:250.0px;top:144.0px;width:1670.0px;height:1.0px;background:#e9edf3;"></div>
<div style="position:absolute;left:274.5px;top:84.14px;font-size:15.6px;line-height:15.6px;color:#2e3546;white-space:nowrap;-webkit-text-stroke:0.3px #2e3546;">CRM Admin Dashboard</div>
<div style="position:absolute;left:274.5px;top:115.87px;font-size:13.8px;line-height:13.8px;color:#5a7ff0;white-space:nowrap;">CRM</div>
<svg style="position:absolute;left:312.5px;top:117.5px;" width="12" height="10" viewBox="0 0 12 10" fill="none"><path d="M1 1l4.2 4.2L1 9.4M6 1l4.2 4.2L6 9.4" stroke="#5d6677" stroke-width="0.9"/></svg>
<div style="position:absolute;left:333.0px;top:116.04px;font-size:13.6px;line-height:13.6px;color:#3a4253;white-space:nowrap;">Dashboard</div>
<div style="position:absolute;left:1521.0px;top:87.37px;font-size:13.8px;line-height:13.8px;color:#9aa3b3;white-space:nowrap;">Category</div>
<div style="position:absolute;left:1521.0px;top:112.67px;font-size:13.8px;line-height:13.8px;color:#2e3546;white-space:nowrap;-webkit-text-stroke:0.3px #2e3546;">All Categories</div>
<div style="position:absolute;left:1625.0px;top:65.0px;width:1.0px;height:79.0px;background:#edf0f5;"></div>
<div style="position:absolute;left:1780.0px;top:65.0px;width:1.0px;height:79.0px;background:#edf0f5;"></div>
<div style="position:absolute;left:1642.0px;top:85.97px;font-size:13.8px;line-height:13.8px;color:#9aa3b3;white-space:nowrap;">Customer Rating</div>
<svg style="position:absolute;left:1642.0px;top:111.0px;" width="80" height="13" viewBox="0 0 80 13" fill="none"><polygon points="5.80,-0.30 7.74,3.63 12.08,4.26 8.94,7.32 9.68,11.64 5.80,9.60 1.92,11.64 2.66,7.32 -0.48,4.26 3.86,3.63" fill="#fcb540"/><polygon points="22.30,-0.30 24.24,3.63 28.58,4.26 25.44,7.32 26.18,11.64 22.30,9.60 18.42,11.64 19.16,7.32 16.02,4.26 20.36,3.63" fill="#fcb540"/><polygon points="38.80,-0.30 40.74,3.63 45.08,4.26 41.94,7.32 42.68,11.64 38.80,9.60 34.92,11.64 35.66,7.32 32.52,4.26 36.86,3.63" fill="#fcb540"/><polygon points="55.30,-0.30 57.24,3.63 61.58,4.26 58.44,7.32 59.18,11.64 55.30,9.60 51.42,11.64 52.16,7.32 49.02,4.26 53.36,3.63" fill="#fcb540"/><polygon points="71.80,-0.30 73.74,3.63 78.08,4.26 74.94,7.32 75.68,11.64 71.80,9.60 67.92,11.64 68.66,7.32 65.52,4.26 69.86,3.63" fill="none" stroke="#fcb540" stroke-width="1"/></svg>
<div style="position:absolute;left:1724.5px;top:110.79px;font-size:13.3px;line-height:13.3px;color:#2e3546;white-space:nowrap;">(4.5/5)</div>
<div style="position:absolute;left:1797.0px;top:87.0px;width:99.0px;height:35.0px;background:#4a77ec;border-radius:4px;"></div>
<svg style="position:absolute;left:1810.0px;top:98.0px;" width="15" height="14" viewBox="0 0 15 14" fill="none"><path d="M0.8 1.2h2.2l1.7 8h7.5l1.5-5.8H3.6" stroke="#fff" stroke-width="1.4" stroke-linejoin="round"/><circle cx="6" cy="12" r="1.2" fill="#fff"/><circle cx="11" cy="12" r="1.2" fill="#fff"/></svg>
<div style="position:absolute;left:1828.4px;top:97.64px;font-size:13.6px;line-height:13.6px;color:#fff;white-space:nowrap;-webkit-text-stroke:0.3px #fff;">Buy Now</div>
<div style="position:absolute;left:270px;top:169px;width:1630px;height:152px;border-radius:7px;overflow:hidden;background:#d3dff7;"><div style="position:absolute;left:0;top:0;width:1630px;height:152px;background:#c9d7f2;clip-path:polygon(768px 0px,859px 0px,707px 152px,616px 152px);"></div><div style="position:absolute;left:0;top:0;width:1630px;height:152px;background:#c9d7f2;clip-path:polygon(985px 0px,1085px 0px,1151px 65px,1101px 117px);"></div><div style="position:absolute;left:0;top:0;width:1630px;height:152px;background:#cddaf4;clip-path:polygon(1101px 117px,1192px 117px,1309px 0px,1218px 0px);"></div><div style="position:absolute;left:0;top:0;width:1630px;height:152px;background:#cfdbf5;clip-path:polygon(238px 0px,347px 0px,462px 115px,353px 115px);"></div><div style="position:absolute;left:0;top:0;width:1630px;height:152px;background:#d6e1f8;clip-path:polygon(130px 0px,238px 0px,90px 152px,0px 152px,0px 130px);"></div><div style="position:absolute;left:0;top:0;width:1630px;height:152px;background:#d0dcf6;clip-path:polygon(1500px 152px,1630px 40px,1630px 152px);"></div></div>
<svg style="position:absolute;left:290.0px;top:190.0px;" width="135" height="110" viewBox="0 0 135 110" fill="none"><g transform="translate(-290 -190)"><path d="M316 224c-4-12 2-24 10-27 8 5 11 17 6 26z" fill="#2bae93"/><path d="M306 212c3-5 9-7 14-5 2 6-1 13-8 15-4-3-6-6-6-10z" fill="#1f9478"/><path d="M303 229c5-8 16-12 28-8-4 9-16 14-28 8z" fill="#4fd6c0"/><path d="M326.8 242l39.8-31 40.4 31v48.5a2.2 2.2 0 0 1-2.2 2.2h-75.8a2.2 2.2 0 0 1-2.2-2.2z" fill="#fb8670"/><rect x="333.4" y="213.6" width="67.3" height="58" fill="#fff"/><path d="M366 244l27-33 11 21-33 17z" fill="#fb8670"/><ellipse cx="399.5" cy="220.5" rx="4.2" ry="12.2" transform="rotate(-32 399.5 220.5)" fill="#2b2860"/><ellipse cx="397.6" cy="222" rx="1.4" ry="4.5" transform="rotate(-32 397.6 222)" fill="#fff"/><path d="M364 238l8-4 5 12-8 3z" fill="#eef1f6"/><ellipse cx="365" cy="242" rx="2.5" ry="4" transform="rotate(-30 365 242)" fill="#fb8670"/><path d="M400 203l2 6 -1.5 0 1.5 5.5" stroke="#f7c92b" stroke-width="1.8" fill="none"/><path d="M416 203l-6 7h4l-5 6" stroke="#f7c92b" stroke-width="1.8" fill="none"/><path d="M407 220h5l-1.5 2h7" stroke="#f7c92b" stroke-width="1.6" fill="none"/><path d="M326.8 246l39.8 28.6 40.4-28.6v44.5a2.2 2.2 0 0 1-2.2 2.2h-75.8a2.2 2.2 0 0 1-2.2-2.2z" fill="#fb8670"/><path d="M356 274l20-25 7 4-16 21z" fill="#fdb797"/><path d="M376 246l5-3 4 8-5 3z" fill="#2b2860"/><rect x="325.8" y="221.4" width="33.4" height="13.6" fill="#fff" stroke="#f58a78" stroke-width="1"/><rect x="327.6" y="223.6" width="11" height="9.2" fill="#4a78ec"/><path d="M329 231.5l3-4 2 2 1.5-1.5 2.5 3.5z" fill="#fff"/><path d="M341 227h15M341 230h12" stroke="#eef0f4" stroke-width="0.8"/><circle cx="313.5" cy="229.5" r="3.4" fill="#f8c0a4"/><path d="M309 228.5c-.5-4 2.5-6.5 6.5-5.5 1.5 1 .5 3-1.5 3-1.5 0-2.5 1-2.5 3z" fill="#262260"/><path d="M302.5 241c0-3.5 3-5.5 7.5-5.5s6.5 2 7.5 4.5l5.5-2.5 1.5 1.5-6.5 5-1 9.5h-14z" fill="#4a6ff0"/><path d="M302.5 252.5h14.5l1.5 2 3.2 33.5h-6.2l-3-27-1.5 27h-6.5l-3.5-4z" fill="#28235f"/><path d="M301 288.5h8v3.8h-9.5zM313.5 288.5h8v3.8h-9z" fill="#3d67f0"/></g></svg>
<div style="position:absolute;left:446.5px;top:219.03px;font-size:24px;line-height:24px;color:#333a4b;white-space:nowrap;-webkit-text-stroke:0.35px #333a4b;">Welcome back! Dashlot</div>
<div style="position:absolute;left:446.5px;top:255.15px;font-size:13px;line-height:13px;color:#3b4253;white-space:nowrap;">Want to be the first to know about Dashlot updates? Subscribe Now !</div>
<div style="position:absolute;left:1751.0px;top:227.0px;width:133.0px;height:35.0px;background:#fb8570;border-radius:4px;"></div>
<div style="position:absolute;left:1617.5px;width:400px;text-align:center;top:236.50px;font-size:14px;line-height:14px;color:#fff;white-space:nowrap;-webkit-text-stroke:0.25px #fff;">Upgrade Account</div>
<div style="position:absolute;left:1883.0px;top:160.4px;width:24px;height:24px;border-radius:50%;background:#ef5d5d;border:2px solid #fff;"></div>
<svg style="position:absolute;left:1889.5px;top:167.0px;" width="11" height="11" viewBox="0 0 11 11" fill="none"><path d="M1.5 1.5l8 8M9.5 1.5l-8 8" stroke="#fff" stroke-width="1.6" stroke-linecap="round"/></svg>
<!-- stats -->
<div class="card" style="left:271.00px;top:346px;width:305px;height:124px;"></div>
<div style="position:absolute;left:290.0px;top:365.0px;width:48px;height:48px;border-radius:50%;background:#edf0fd;"></div>
<svg style="position:absolute;left:304.0px;top:379.0px;" width="20" height="20" viewBox="0 0 20 20" fill="none"><circle cx="7" cy="5.5" r="3" stroke="#5b7ff0" stroke-width="1.3"/><circle cx="14" cy="5.5" r="3" stroke="#5b7ff0" stroke-width="1.3"/><path d="M1.5 17v-1.5a4.5 4.5 0 0 1 6-4.2M9 17v-1.2a5 5 0 0 1 10 0V17z" stroke="#5b7ff0" stroke-width="1.3" stroke-linejoin="round"/><path d="M1.5 17h6" stroke="#5b7ff0" stroke-width="1.3"/></svg>
<div style="position:absolute;left:355.0px;top:365.40px;font-size:14px;line-height:14px;color:#6c7790;white-space:nowrap;-webkit-text-stroke:0.2px #6c7790;">Active Clients</div>
<div style="position:absolute;left:355.0px;top:385.95px;font-size:28px;line-height:28px;color:#2e3546;white-space:nowrap;-webkit-text-stroke:0.4px #2e3546;">25K</div>
<svg style="position:absolute;left:291.5px;top:436.5px;" width="12" height="9" viewBox="0 0 12 9" fill="none"><path d="M0.8 7.5l3.5-3.5 2.2 2.2L10.5 2M7.5 1.8h3.2V5" stroke="#20c08e" stroke-width="1.3" stroke-linejoin="round"/></svg>
<div style="position:absolute;left:307.8px;top:434.35px;font-size:13px;line-height:13px;color:#20c08e;white-space:nowrap;-webkit-text-stroke:0.2px #20c08e;">0.35%</div>
<div style="position:absolute;left:350.2px;top:434.35px;font-size:13px;line-height:13px;color:#a2abbb;white-space:nowrap;">Since Last Month</div>
<svg style="position:absolute;left:271.0px;top:346.0px;" width="305" height="124" viewBox="0 0 305 124" fill="none"><path d="M213.30 53.50 C217.47 53.50 221.03 40.10 225.20 40.10 C229.40 40.10 233.00 66.90 237.20 66.90 C241.40 66.90 245.00 56.80 249.20 56.80 C253.40 56.80 257.00 46.80 261.20 46.80 C265.47 46.80 269.13 75.20 273.40 75.20 C277.56 75.20 281.13 56.80 285.30 56.80" stroke="#2a72e0" stroke-width="2.2" stroke-linecap="round" fill="none"/></svg>
<div class="card" style="left:601.75px;top:346px;width:305px;height:124px;"></div>
<div style="position:absolute;left:620.8px;top:365.0px;width:48px;height:48px;border-radius:50%;background:#fef7e7;"></div>
<svg style="position:absolute;left:634.8px;top:379.0px;" width="20" height="20" viewBox="0 0 20 20" fill="none"><text x="10" y="16" font-family="Liberation Sans" font-size="19" fill="#f7b731" text-anchor="middle">$</text></svg>
<div style="position:absolute;left:685.8px;top:365.40px;font-size:14px;line-height:14px;color:#6c7790;white-space:nowrap;-webkit-text-stroke:0.2px #6c7790;">Total Revenue</div>
<div style="position:absolute;left:685.8px;top:385.95px;font-size:28px;line-height:28px;color:#2e3546;white-space:nowrap;-webkit-text-stroke:0.4px #2e3546;">$365</div>
<svg style="position:absolute;left:622.2px;top:436.5px;" width="12" height="9" viewBox="0 0 12 9" fill="none"><path d="M0.8 1.5l3.5 3.5 2.2-2.2L10.5 7M7.5 7.2h3.2V4" stroke="#ef4f4f" stroke-width="1.3" stroke-linejoin="round"/></svg>
<div style="position:absolute;left:638.5px;top:434.35px;font-size:13px;line-height:13px;color:#ef4f4f;white-space:nowrap;-webkit-text-stroke:0.2px #ef4f4f;">0.54%</div>
<div style="position:absolute;left:681.0px;top:434.35px;font-size:13px;line-height:13px;color:#a2abbb;white-space:nowrap;">Since Last Month</div>
<svg style="position:absolute;left:601.8px;top:346.0px;" width="305" height="124" viewBox="0 0 305 124" fill="none"><path d="M213.30 56.60 C217.47 56.60 221.03 62.00 225.20 62.00 C229.40 62.00 233.00 44.90 237.20 44.90 C241.40 44.90 245.00 59.10 249.20 59.10 C253.40 59.10 257.00 71.70 261.20 71.70 C265.47 71.70 269.13 56.00 273.40 56.00 C277.56 56.00 281.13 77.10 285.30 77.10" stroke="#f9c22e" stroke-width="2.2" stroke-linecap="round" fill="none"/></svg>
<div class="card" style="left:932.50px;top:346px;width:305px;height:124px;"></div>
<div style="position:absolute;left:951.5px;top:365.0px;width:48px;height:48px;border-radius:50%;background:#e5f8f2;"></div>
<svg style="position:absolute;left:965.5px;top:379.0px;" width="20" height="20" viewBox="0 0 20 20" fill="none"><path d="M1 2h2.5l2 10h10l1.8-7.5H4.2" stroke="#26c495" stroke-width="1.4" stroke-linejoin="round"/><circle cx="7" cy="15.8" r="1.6" stroke="#26c495" stroke-width="1.3"/><circle cx="14" cy="15.8" r="1.6" stroke="#26c495" stroke-width="1.3"/><path d="M8.2 7.8l2 2 3.6-3.6" stroke="#26c495" stroke-width="1.4"/></svg>
<div style="position:absolute;left:1016.5px;top:365.40px;font-size:14px;line-height:14px;color:#6c7790;white-space:nowrap;-webkit-text-stroke:0.2px #6c7790;">Total Sales</div>
<div style="position:absolute;left:1016.5px;top:385.95px;font-size:28px;line-height:28px;color:#2e3546;white-space:nowrap;-webkit-text-stroke:0.4px #2e3546;">1,589</div>
<svg style="position:absolute;left:953.0px;top:436.5px;" width="12" height="9" viewBox="0 0 12 9" fill="none"><path d="M0.8 7.5l3.5-3.5 2.2 2.2L10.5 2M7.5 1.8h3.2V5" stroke="#20c08e" stroke-width="1.3" stroke-linejoin="round"/></svg>
<div style="position:absolute;left:969.3px;top:434.35px;font-size:13px;line-height:13px;color:#20c08e;white-space:nowrap;-webkit-text-stroke:0.2px #20c08e;">0.96%</div>
<div style="position:absolute;left:1011.7px;top:434.35px;font-size:13px;line-height:13px;color:#a2abbb;white-space:nowrap;">Since Last Month</div>
<svg style="position:absolute;left:932.5px;top:346.0px;" width="305" height="124" viewBox="0 0 305 124" fill="none"><path d="M213.30 65.40 C217.47 65.40 221.03 54.10 225.20 54.10 C229.40 54.10 233.00 76.70 237.20 76.70 C241.40 76.70 245.00 68.30 249.20 68.30 C253.40 68.30 257.00 45.30 261.20 45.30 C265.47 45.30 269.13 84.00 273.40 84.00 C277.56 84.00 281.13 68.50 285.30 68.50" stroke="#2ec59a" stroke-width="2.2" stroke-linecap="round" fill="none"/></svg>
<div class="card" style="left:1263.25px;top:346px;width:305px;height:124px;"></div>
<div style="position:absolute;left:1282.2px;top:365.0px;width:48px;height:48px;border-radius:50%;background:#fdeced;"></div>
<svg style="position:absolute;left:1296.2px;top:379.0px;" width="20" height="20" viewBox="0 0 20 20" fill="none"><path d="M6 8.5V17h8.3c1 0 1.8-.7 2-1.6l1.3-5.2c.2-1-.5-1.9-1.5-1.9H12V4.5c0-1.2-1-2.5-2.2-2.5L6 8.5zM3 8.5h3V17H3z" stroke="#ef5a5a" stroke-width="1.3" stroke-linejoin="round"/></svg>
<div style="position:absolute;left:1347.2px;top:365.40px;font-size:14px;line-height:14px;color:#6c7790;white-space:nowrap;-webkit-text-stroke:0.2px #6c7790;">Total Deals</div>
<div style="position:absolute;left:1347.2px;top:385.95px;font-size:28px;line-height:28px;color:#2e3546;white-space:nowrap;-webkit-text-stroke:0.4px #2e3546;">256</div>
<svg style="position:absolute;left:1283.8px;top:436.5px;" width="12" height="9" viewBox="0 0 12 9" fill="none"><path d="M0.8 1.5l3.5 3.5 2.2-2.2L10.5 7M7.5 7.2h3.2V4" stroke="#ef4f4f" stroke-width="1.3" stroke-linejoin="round"/></svg>
<div style="position:absolute;left:1300.0px;top:434.35px;font-size:13px;line-height:13px;color:#ef4f4f;white-space:nowrap;-webkit-text-stroke:0.2px #ef4f4f;">0.42%</div>
<div style="position:absolute;left:1342.5px;top:434.35px;font-size:13px;line-height:13px;color:#a2abbb;white-space:nowrap;">Since Last Month</div>
<svg style="position:absolute;left:1263.2px;top:346.0px;" width="305" height="124" viewBox="0 0 305 124" fill="none"><path d="M213.30 83.40 C217.47 83.40 221.03 52.40 225.20 52.40 C229.40 52.40 233.00 70.20 237.20 70.20 C241.40 70.20 245.00 63.70 249.20 63.70 C253.40 63.70 257.00 45.50 261.20 45.50 C265.47 45.50 269.13 75.80 273.40 75.80 C277.56 75.80 281.13 63.70 285.30 63.70" stroke="#e8415f" stroke-width="2.2" stroke-linecap="round" fill="none"/></svg>
<div class="card" style="left:1594.00px;top:346px;width:305px;height:124px;"></div>
<div style="position:absolute;left:1613.0px;top:365.0px;width:48px;height:48px;border-radius:50%;background:#e3f8fd;"></div>
<svg style="position:absolute;left:1627.0px;top:379.0px;" width="20" height="20" viewBox="0 0 20 20" fill="none"><path d="M2 4.5V15a1 1 0 0 0 1 1h14a1 1 0 0 0 1-1V7a1 1 0 0 0-1-1H9.5L8 4H3a1 1 0 0 0-1 .5z" stroke="#1fc3ee" stroke-width="1.3" stroke-linejoin="round"/><path d="M2 7h16" stroke="#1fc3ee" stroke-width="1.1"/><path d="M6.5 13.5c.5-2.5 2.5-3.8 5.5-3.8V8l3 2.8-3 2.7v-1.7c-2.2 0-4 .5-5.5 1.7z" fill="#1fc3ee"/></svg>
<div style="position:absolute;left:1678.0px;top:365.40px;font-size:14px;line-height:14px;color:#6c7790;white-space:nowrap;-webkit-text-stroke:0.2px #6c7790;">Total Projects</div>
<div style="position:absolute;left:1678.0px;top:385.95px;font-size:28px;line-height:28px;color:#2e3546;white-space:nowrap;-webkit-text-stroke:0.4px #2e3546;">46</div>
<svg style="position:absolute;left:1614.5px;top:436.5px;" width="12" height="9" viewBox="0 0 12 9" fill="none"><path d="M0.8 7.5l3.5-3.5 2.2 2.2L10.5 2M7.5 1.8h3.2V5" stroke="#20c08e" stroke-width="1.3" stroke-linejoin="round"/></svg>
<div style="position:absolute;left:1630.8px;top:434.35px;font-size:13px;line-height:13px;color:#20c08e;white-space:nowrap;-webkit-text-stroke:0.2px #20c08e;">0.42%</div>
<div style="position:absolute;left:1673.2px;top:434.35px;font-size:13px;line-height:13px;color:#a2abbb;white-space:nowrap;">Since Last Month</div>
<svg style="position:absolute;left:1594.0px;top:346.0px;" width="305" height="124" viewBox="0 0 305 124" fill="none"><path d="M213.30 40.60 C217.47 40.60 221.03 76.20 225.20 76.20 C229.40 76.20 233.00 40.60 237.20 40.60 C241.40 40.60 245.00 54.80 249.20 54.80 C253.40 54.80 257.00 68.20 261.20 68.20 C265.47 68.20 269.13 52.20 273.40 52.20 C277.56 52.20 281.13 74.40 285.30 74.40" stroke="#1ec8f0" stroke-width="2.2" stroke-linecap="round" fill="none"/></svg>
<!-- revenue -->
<div class="card" style="left:271px;top:496px;width:1215px;height:474px;"></div>
<div style="position:absolute;left:295.6px;top:519.01px;font-size:16px;line-height:16px;color:#333a4b;white-space:nowrap;-webkit-text-stroke:0.25px #333a4b;">Revenue Statistics</div>
<div style="position:absolute;left:271.0px;top:558.0px;width:1215.0px;height:1.0px;background:#edf0f6;"></div>
<div style="position:absolute;left:1309.0px;top:512.4px;width:77.0px;height:29.2px;border:1px solid #4a77ec;border-radius:3px;"></div>
<svg style="position:absolute;left:1318.0px;top:520.0px;" width="14" height="13" viewBox="0 0 14 13" fill="none"><path d="M3.5 10.5a3 3 0 0 1-.3-6 4 4 0 0 1 7.6-.8 3.2 3.2 0 0 1 .2 6.8z" fill="#4a77ec"/><path d="M7 5.3V9.6M5.2 7.8L7 9.6l1.8-1.8" stroke="#fff" stroke-width="1.2"/></svg>
<div style="position:absolute;left:1339.3px;top:519.85px;font-size:13px;line-height:13px;color:#4a77ec;white-space:nowrap;">Export</div>
<div style="position:absolute;left:1390.2px;top:512.4px;width:72.0px;height:29.2px;background:#4a77ec;border-radius:3px;"></div>
<svg style="position:absolute;left:1398.5px;top:520.0px;" width="14" height="14" viewBox="0 0 14 14" fill="none"><circle cx="11" cy="2.8" r="2" fill="#fff"/><circle cx="3" cy="7" r="2" fill="#fff"/><circle cx="11" cy="11.2" r="2" fill="#fff"/><path d="M11 2.8L3 7l8 4.2" stroke="#fff" stroke-width="1.4"/></svg>
<div style="position:absolute;left:1419.0px;top:519.85px;font-size:13px;line-height:13px;color:#fff;white-space:nowrap;-webkit-text-stroke:0.2px #fff;">Share</div>
<div style="position:absolute;left:329.0px;top:626.2px;width:93.9px;height:275.9px;background:#f8f8fd;"></div>
<div style="position:absolute;left:422.9px;top:626.2px;width:93.9px;height:275.9px;background:#fbfbfc;"></div>
<div style="position:absolute;left:516.8px;top:626.2px;width:93.9px;height:275.9px;background:#f8f8fd;"></div>
<div style="position:absolute;left:610.8px;top:626.2px;width:93.9px;height:275.9px;background:#fbfbfc;"></div>
<div style="position:absolute;left:704.7px;top:626.2px;width:93.9px;height:275.9px;background:#f8f8fd;"></div>
<div style="position:absolute;left:798.6px;top:626.2px;width:93.9px;height:275.9px;background:#fbfbfc;"></div>
<div style="position:absolute;left:892.5px;top:626.2px;width:93.9px;height:275.9px;background:#f8f8fd;"></div>
<div style="position:absolute;left:986.4px;top:626.2px;width:93.9px;height:275.9px;background:#fbfbfc;"></div>
<div style="position:absolute;left:1080.3px;top:626.2px;width:93.9px;height:275.9px;background:#f8f8fd;"></div>
<div style="position:absolute;left:1174.2px;top:626.2px;width:93.9px;height:275.9px;background:#fbfbfc;"></div>
<div style="position:absolute;left:1268.2px;top:626.2px;width:93.9px;height:275.9px;background:#f8f8fd;"></div>
<div style="position:absolute;left:1362.1px;top:626.2px;width:93.9px;height:275.9px;background:#fbfbfc;"></div>
<svg style="position:absolute;left:329.0px;top:600.0px;" width="1127" height="310" viewBox="0 0 1127 310" fill="none"><defs><linearGradient id="ag" x1="0" y1="0" x2="0" y2="1"><stop offset="0" stop-color="#fcf1d8" stop-opacity="0.45"/><stop offset="1" stop-color="#fdf6e8" stop-opacity="0.4"/></linearGradient><filter id="lb" x="-5%" y="-20%" width="110%" height="140%"><feGaussianBlur stdDeviation="3"/></filter></defs><path d="M46.96 164.14 C79.83 164.14 108.00 129.65 140.88 129.65 C173.75 129.65 201.92 95.16 234.79 95.16 C267.66 95.16 295.84 198.63 328.71 198.63 C361.58 198.63 389.75 164.14 422.62 164.14 C455.50 164.14 483.67 112.40 516.54 112.40 C549.41 112.40 577.59 181.38 610.46 181.38 C643.33 181.38 671.50 112.40 704.38 112.40 C737.25 112.40 765.42 77.91 798.29 77.91 C831.16 77.91 859.34 164.14 892.21 164.14 C925.08 164.14 953.25 129.65 986.12 129.65 C1019.00 129.65 1047.17 95.16 1080.04 95.16 L1080.04 302.10 L46.96 302.10 Z" fill="url(#ag)"/><path d="M0 26.18H1127" stroke="#e8ebf2" stroke-width="1" stroke-dasharray="4 4"/><path d="M0 95.16H1127" stroke="#e8ebf2" stroke-width="1" stroke-dasharray="4 4"/><path d="M0 164.14H1127" stroke="#e8ebf2" stroke-width="1" stroke-dasharray="4 4"/><path d="M0 233.12H1127" stroke="#e8ebf2" stroke-width="1" stroke-dasharray="4 4"/><path d="M0 302.10H1127" stroke="#e8ebf2" stroke-width="1" stroke-dasharray="4 4"/><rect x="36.76" y="232.62" width="20.4" height="69.68" rx="10.2" fill="#4a77ee"/><rect x="130.68" y="198.13" width="20.4" height="104.17" rx="10.2" fill="#4a77ee"/><rect x="224.59" y="163.64" width="20.4" height="138.66" rx="10.2" fill="#4a77ee"/><rect x="318.51" y="232.62" width="20.4" height="69.68" rx="10.2" fill="#4a77ee"/><rect x="412.43" y="198.13" width="20.4" height="104.17" rx="10.2" fill="#4a77ee"/><rect x="506.34" y="163.64" width="20.4" height="138.66" rx="10.2" fill="#4a77ee"/><rect x="600.26" y="215.38" width="20.4" height="86.93" rx="10.2" fill="#4a77ee"/><rect x="694.17" y="180.88" width="20.4" height="121.42" rx="10.2" fill="#4a77ee"/><rect x="788.09" y="146.39" width="20.4" height="155.91" rx="10.2" fill="#4a77ee"/><rect x="882.01" y="232.62" width="20.4" height="69.68" rx="10.2" fill="#4a77ee"/><rect x="975.92" y="198.13" width="20.4" height="104.17" rx="10.2" fill="#4a77ee"/><rect x="1069.84" y="163.64" width="20.4" height="138.66" rx="10.2" fill="#4a77ee"/><path d="M46.96 164.14 C79.83 164.14 108.00 129.65 140.88 129.65 C173.75 129.65 201.92 95.16 234.79 95.16 C267.66 95.16 295.84 198.63 328.71 198.63 C361.58 198.63 389.75 164.14 422.62 164.14 C455.50 164.14 483.67 112.40 516.54 112.40 C549.41 112.40 577.59 181.38 610.46 181.38 C643.33 181.38 671.50 112.40 704.38 112.40 C737.25 112.40 765.42 77.91 798.29 77.91 C831.16 77.91 859.34 164.14 892.21 164.14 C925.08 164.14 953.25 129.65 986.12 129.65 C1019.00 129.65 1047.17 95.16 1080.04 95.16" transform="translate(0 6)" stroke="#f8c231" stroke-opacity="0.10" stroke-width="6" fill="none" filter="url(#lb)"/><path d="M46.96 164.14 C79.83 164.14 108.00 129.65 140.88 129.65 C173.75 129.65 201.92 95.16 234.79 95.16 C267.66 95.16 295.84 198.63 328.71 198.63 C361.58 198.63 389.75 164.14 422.62 164.14 C455.50 164.14 483.67 112.40 516.54 112.40 C549.41 112.40 577.59 181.38 610.46 181.38 C643.33 181.38 671.50 112.40 704.38 112.40 C737.25 112.40 765.42 77.91 798.29 77.91 C831.16 77.91 859.34 164.14 892.21 164.14 C925.08 164.14 953.25 129.65 986.12 129.65 C1019.00 129.65 1047.17 95.16 1080.04 95.16" stroke="#f8c231" stroke-width="2" stroke-dasharray="6 4" fill="none"/><circle cx="234.79" cy="95.16" r="4" fill="#fff" stroke="#f8c231" stroke-width="2"/><circle cx="516.54" cy="112.40" r="4" fill="#fff" stroke="#f8c231" stroke-width="2"/><circle cx="798.29" cy="77.91" r="4" fill="#fff" stroke="#f8c231" stroke-width="2"/><circle cx="1080.04" cy="95.16" r="4" fill="#fff" stroke="#f8c231" stroke-width="2"/></svg>
<div style="position:absolute;right:1601.0px;top:618.42px;font-size:11px;line-height:11px;color:#a1a8b6;font-weight:bold;white-space:nowrap;">80</div>
<div style="position:absolute;right:1601.0px;top:687.40px;font-size:11px;line-height:11px;color:#a1a8b6;font-weight:bold;white-space:nowrap;">60</div>
<div style="position:absolute;right:1601.0px;top:756.38px;font-size:11px;line-height:11px;color:#a1a8b6;font-weight:bold;white-space:nowrap;">40</div>
<div style="position:absolute;right:1601.0px;top:825.36px;font-size:11px;line-height:11px;color:#a1a8b6;font-weight:bold;white-space:nowrap;">20</div>
<div style="position:absolute;right:1601.0px;top:894.34px;font-size:11px;line-height:11px;color:#a1a8b6;font-weight:bold;white-space:nowrap;">0</div>
<div style="position:absolute;left:176.0px;width:400px;text-align:center;top:917.69px;font-size:12px;line-height:12px;color:#a1a8b6;font-weight:bold;white-space:nowrap;">Jan</div>
<div style="position:absolute;left:269.9px;width:400px;text-align:center;top:917.69px;font-size:12px;line-height:12px;color:#a1a8b6;font-weight:bold;white-space:nowrap;">Feb</div>
<div style="position:absolute;left:363.8px;width:400px;text-align:center;top:917.69px;font-size:12px;line-height:12px;color:#a1a8b6;font-weight:bold;white-space:nowrap;">Mar</div>
<div style="position:absolute;left:457.7px;width:400px;text-align:center;top:917.69px;font-size:12px;line-height:12px;color:#a1a8b6;font-weight:bold;white-space:nowrap;">Apr</div>
<div style="position:absolute;left:551.6px;width:400px;text-align:center;top:917.69px;font-size:12px;line-height:12px;color:#a1a8b6;font-weight:bold;white-space:nowrap;">May</div>
<div style="position:absolute;left:645.5px;width:400px;text-align:center;top:917.69px;font-size:12px;line-height:12px;color:#a1a8b6;font-weight:bold;white-space:nowrap;">Jun</div>
<div style="position:absolute;left:739.5px;width:400px;text-align:center;top:917.69px;font-size:12px;line-height:12px;color:#a1a8b6;font-weight:bold;white-space:nowrap;">Jul</div>
<div style="position:absolute;left:833.4px;width:400px;text-align:center;top:917.69px;font-size:12px;line-height:12px;color:#a1a8b6;font-weight:bold;white-space:nowrap;">Agu</div>
<div style="position:absolute;left:927.3px;width:400px;text-align:center;top:917.69px;font-size:12px;line-height:12px;color:#a1a8b6;font-weight:bold;white-space:nowrap;">Sep</div>
<div style="position:absolute;left:1021.2px;width:400px;text-align:center;top:917.69px;font-size:12px;line-height:12px;color:#a1a8b6;font-weight:bold;white-space:nowrap;">Oct</div>
<div style="position:absolute;left:1115.1px;width:400px;text-align:center;top:917.69px;font-size:12px;line-height:12px;color:#a1a8b6;font-weight:bold;white-space:nowrap;">Nov</div>
<div style="position:absolute;left:1209.0px;width:400px;text-align:center;top:917.69px;font-size:12px;line-height:12px;color:#a1a8b6;font-weight:bold;white-space:nowrap;">Dec</div>
<div style="position:absolute;left:793.5px;top:586.7px;width:8.0px;height:8.0px;background:#4a77ee;border-radius:2px;"></div>
<div style="position:absolute;left:809.0px;top:585.09px;font-size:12px;line-height:12px;color:#a1a8b6;font-weight:bold;white-space:nowrap;">This Month</div>
<div style="position:absolute;left:883.0px;top:586.7px;width:8.0px;height:8.0px;background:#f8c231;border-radius:2px;"></div>
<div style="position:absolute;left:898.5px;top:585.09px;font-size:12px;line-height:12px;color:#a1a8b6;font-weight:bold;white-space:nowrap;">Last Month</div>
<!-- events -->
<div class="card" style="left:1512px;top:496px;width:387px;height:474px;"></div>
<div style="position:absolute;left:1536.0px;top:518.61px;font-size:16px;line-height:16px;color:#333a4b;white-space:nowrap;-webkit-text-stroke:0.25px #333a4b;">Upcoming Events</div>
<div style="position:absolute;left:1512.0px;top:558.0px;width:387.0px;height:1.0px;background:#edf0f6;"></div>
<div style="position:absolute;left:1806.0px;top:512.4px;width:69.0px;height:29.2px;background:#ebeffd;border:1px solid #d9e1fa;border-radius:3px;"></div>
<div style="position:absolute;left:1815.8px;top:520.55px;font-size:13px;line-height:13px;color:#4a77ec;white-space:nowrap;">Show All</div>
<div style="position:absolute;left:1531.2px;top:578.0px;width:55.6px;height:49.6px;border-radius:4px;overflow:hidden;background:#e9eefd;"><div style="height:22.9px;background:#4a77ec;"></div></div>
<div style="position:absolute;left:1359.0px;width:400px;text-align:center;top:585.49px;font-size:10px;line-height:10px;color:#fff;font-weight:bold;white-space:nowrap;">Tue</div>
<div style="position:absolute;left:1359.0px;width:400px;text-align:center;top:607.45px;font-size:13px;line-height:13px;color:#4a6fe0;white-space:nowrap;">16 Aug</div>
<div style="position:absolute;left:1603.8px;top:585.15px;font-size:15px;line-height:15px;color:#333a4b;white-space:nowrap;-webkit-text-stroke:0.25px #333a4b;">Strategy Planning</div>
<div style="position:absolute;left:1603.8px;top:608.25px;font-size:13px;line-height:13px;color:#a5aebd;white-space:nowrap;">Duo et et rebum kasd takimata.</div>
<div style="position:absolute;left:1850.7px;top:588.1px;width:29.5px;height:29.5px;border-radius:50%;background:#f0f2f7;"></div>
<svg style="position:absolute;left:1859.4px;top:597.0px;" width="12" height="12" viewBox="0 0 12 12" fill="none"><path d="M1 6h10M6.5 1.5L11 6l-4.5 4.5" stroke="#6a7385" stroke-width="1.1" stroke-linecap="round" stroke-linejoin="round"/></svg>
<div style="position:absolute;left:1531.2px;top:658.1px;width:55.6px;height:49.6px;border-radius:4px;overflow:hidden;background:#fff8e6;"><div style="height:22.9px;background:#fbc02d;"></div></div>
<div style="position:absolute;left:1359.0px;width:400px;text-align:center;top:665.59px;font-size:10px;line-height:10px;color:#fff;font-weight:bold;white-space:nowrap;">Thu</div>
<div style="position:absolute;left:1359.0px;width:400px;text-align:center;top:687.55px;font-size:13px;line-height:13px;color:#f4b125;white-space:nowrap;">18 Aug</div>
<div style="position:absolute;left:1603.8px;top:665.25px;font-size:15px;line-height:15px;color:#333a4b;white-space:nowrap;-webkit-text-stroke:0.25px #333a4b;">Hiring Employees</div>
<div style="position:absolute;left:1603.8px;top:688.35px;font-size:13px;line-height:13px;color:#a5aebd;white-space:nowrap;">Accusam diam est vero no at sit sea. Te...</div>
<div style="position:absolute;left:1850.7px;top:668.2px;width:29.5px;height:29.5px;border-radius:50%;background:#f0f2f7;"></div>
<svg style="position:absolute;left:1859.4px;top:677.1px;" width="12" height="12" viewBox="0 0 12 12" fill="none"><path d="M1 6h10M6.5 1.5L11 6l-4.5 4.5" stroke="#6a7385" stroke-width="1.1" stroke-linecap="round" stroke-linejoin="round"/></svg>
<div style="position:absolute;left:1531.2px;top:739.1px;width:55.6px;height:49.6px;border-radius:4px;overflow:hidden;background:#e6f9f3;"><div style="height:22.9px;background:#10cb96;"></div></div>
<div style="position:absolute;left:1359.0px;width:400px;text-align:center;top:746.59px;font-size:10px;line-height:10px;color:#fff;font-weight:bold;white-space:nowrap;">Mon</div>
<div style="position:absolute;left:1359.0px;width:400px;text-align:center;top:768.55px;font-size:13px;line-height:13px;color:#1cbf8d;white-space:nowrap;">22 Aug</div>
<div style="position:absolute;left:1603.8px;top:746.25px;font-size:15px;line-height:15px;color:#333a4b;white-space:nowrap;-webkit-text-stroke:0.25px #333a4b;">Traning</div>
<div style="position:absolute;left:1603.8px;top:769.35px;font-size:13px;line-height:13px;color:#a5aebd;white-space:nowrap;">Stet lorem rebum elitr sea et.</div>
<div style="position:absolute;left:1850.7px;top:749.2px;width:29.5px;height:29.5px;border-radius:50%;background:#f0f2f7;"></div>
<svg style="position:absolute;left:1859.4px;top:758.1px;" width="12" height="12" viewBox="0 0 12 12" fill="none"><path d="M1 6h10M6.5 1.5L11 6l-4.5 4.5" stroke="#6a7385" stroke-width="1.1" stroke-linecap="round" stroke-linejoin="round"/></svg>
<div style="position:absolute;left:1531.2px;top:818.9px;width:55.6px;height:49.6px;border-radius:4px;overflow:hidden;background:#e3f8fd;"><div style="height:22.9px;background:#12cff5;"></div></div>
<div style="position:absolute;left:1359.0px;width:400px;text-align:center;top:826.38px;font-size:10px;line-height:10px;color:#fff;font-weight:bold;white-space:nowrap;">Wed</div>
<div style="position:absolute;left:1359.0px;width:400px;text-align:center;top:848.35px;font-size:13px;line-height:13px;color:#18c3ef;white-space:nowrap;">31 Aug</div>
<div style="position:absolute;left:1603.8px;top:826.05px;font-size:15px;line-height:15px;color:#333a4b;white-space:nowrap;-webkit-text-stroke:0.25px #333a4b;">Finance policy</div>
<div style="position:absolute;left:1603.8px;top:849.15px;font-size:13px;line-height:13px;color:#a5aebd;white-space:nowrap;">Aliquyam rebum dolor ea vero clita eirm...</div>
<div style="position:absolute;left:1850.7px;top:829.0px;width:29.5px;height:29.5px;border-radius:50%;background:#f0f2f7;"></div>
<svg style="position:absolute;left:1859.4px;top:837.9px;" width="12" height="12" viewBox="0 0 12 12" fill="none"><path d="M1 6h10M6.5 1.5L11 6l-4.5 4.5" stroke="#6a7385" stroke-width="1.1" stroke-linecap="round" stroke-linejoin="round"/></svg>
<div style="position:absolute;left:1531.2px;top:900.2px;width:55.6px;height:49.6px;border-radius:4px;overflow:hidden;background:#fdeaea;"><div style="height:22.9px;background:#ef5b5b;"></div></div>
<div style="position:absolute;left:1359.0px;width:400px;text-align:center;top:907.69px;font-size:10px;line-height:10px;color:#fff;font-weight:bold;white-space:nowrap;">Fri</div>
<div style="position:absolute;left:1359.0px;width:400px;text-align:center;top:929.65px;font-size:13px;line-height:13px;color:#ee5151;white-space:nowrap;">06 Sep</div>
<div style="position:absolute;left:1603.8px;top:907.35px;font-size:15px;line-height:15px;color:#333a4b;white-space:nowrap;-webkit-text-stroke:0.25px #333a4b;">Marketing Policy</div>
<div style="position:absolute;left:1603.8px;top:930.45px;font-size:13px;line-height:13px;color:#a5aebd;white-space:nowrap;">Et at lorem eos sit diam aliquyam volupt...</div>
<div style="position:absolute;left:1850.7px;top:910.4px;width:29.5px;height:29.5px;border-radius:50%;background:#f0f2f7;"></div>
<svg style="position:absolute;left:1859.4px;top:919.2px;" width="12" height="12" viewBox="0 0 12 12" fill="none"><path d="M1 6h10M6.5 1.5L11 6l-4.5 4.5" stroke="#6a7385" stroke-width="1.1" stroke-linecap="round" stroke-linejoin="round"/></svg>
<!-- activity -->
<div class="card" style="left:271px;top:996px;width:525px;height:424px;"></div>
<div style="position:absolute;left:295.6px;top:1012.81px;font-size:16px;line-height:16px;color:#333a4b;white-space:nowrap;-webkit-text-stroke:0.25px #333a4b;">Recent Activity</div>
<div style="position:absolute;left:271.0px;top:1046.0px;width:525.0px;height:1.0px;background:#edf0f6;"></div>
<div style="position:absolute;left:309.0px;top:1085.7px;width:2.0px;height:295.1px;background:#e6e9f1;"></div>
<div style="position:absolute;left:289.8px;top:1065.7px;width:40px;height:40px;border-radius:50%;background:#4a77ec;"></div>
<svg style="position:absolute;left:300.8px;top:1076.7px;" width="18" height="18" viewBox="0 0 18 18" fill="none"><rect x="2" y="3" width="12" height="12" rx="1.5" stroke="#fff" stroke-width="1.6"/><path d="M6 8.5l2.5 2.5L16 3" stroke="#fff" stroke-width="1.8" stroke-linejoin="round"/></svg>
<div style="position:absolute;left:338.6px;top:1065.00px;font-size:14px;line-height:14px;color:#333a4b;white-space:nowrap;-webkit-text-stroke:0.2px #333a4b;">Task finished</div>
<div style="position:absolute;left:338.6px;top:1086.04px;font-size:11px;line-height:11px;color:#7c8598;white-space:nowrap;">Adam Berry finished task on <span style="color:#4a6ff0;-webkit-text-stroke:0.15px #4a6ff0;">Project Management</span></div>
<div style="position:absolute;right:1143.2px;top:1069.78px;font-size:12.6px;line-height:12.6px;color:#9aa2b1;white-space:nowrap;">14:15</div>
<svg style="position:absolute;left:727.0px;top:1070.2px;" width="14" height="15" viewBox="0 0 14 15" fill="none"><circle cx="7" cy="8.5" r="5.6" stroke="#9aa2b1" stroke-width="1.2"/><path d="M7 8.5L5 10.5M5 1.2h4M7 1.2v1.7M11.5 3.5l1 1" stroke="#9aa2b1" stroke-width="1.2"/></svg>
<div style="position:absolute;left:289.8px;top:1124.7px;width:40px;height:40px;border-radius:50%;background:#fbbf2d;"></div>
<svg style="position:absolute;left:300.8px;top:1135.7px;" width="18" height="18" viewBox="0 0 18 18" fill="none"><path d="M9 2c4.2 0 7.5 2.7 7.5 6s-3.3 6-7.5 6c-.9 0-1.8-.1-2.6-.4L2.5 15.5l1-3.2C2.3 11.2 1.5 9.7 1.5 8c0-3.3 3.3-6 7.5-6z" stroke="#fff" stroke-width="1.5"/><circle cx="5.8" cy="8.2" r="1" fill="#fff"/><circle cx="9" cy="8.2" r="1" fill="#fff"/><circle cx="12.2" cy="8.2" r="1" fill="#fff"/></svg>
<div style="position:absolute;left:338.6px;top:1124.02px;font-size:14px;line-height:14px;color:#333a4b;white-space:nowrap;-webkit-text-stroke:0.2px #333a4b;">New Comment</div>
<div style="position:absolute;left:338.6px;top:1145.06px;font-size:11px;line-height:11px;color:#7c8598;white-space:nowrap;">Victoria commented on <span style="color:#4a6ff0;-webkit-text-stroke:0.15px #4a6ff0;">Angular Template</span></div>
<div style="position:absolute;right:1143.2px;top:1128.80px;font-size:12.6px;line-height:12.6px;color:#9aa2b1;white-space:nowrap;">12:01</div>
<svg style="position:absolute;left:727.0px;top:1129.2px;" width="14" height="15" viewBox="0 0 14 15" fill="none"><circle cx="7" cy="8.5" r="5.6" stroke="#9aa2b1" stroke-width="1.2"/><path d="M7 8.5L5 10.5M5 1.2h4M7 1.2v1.7M11.5 3.5l1 1" stroke="#9aa2b1" stroke-width="1.2"/></svg>
<div style="position:absolute;left:289.8px;top:1183.7px;width:40px;height:40px;border-radius:50%;background:#ef5b5b;"></div>
<svg style="position:absolute;left:300.8px;top:1194.7px;" width="18" height="18" viewBox="0 0 18 18" fill="none"><path d="M5 6.5h8v5a4 4 0 0 1-8 0z" stroke="#fff" stroke-width="1.5"/><path d="M6.5 6.5a2.5 2.5 0 0 1 5 0M9 6.5v9M2 9.5h3M13 9.5h3M2.5 6l2.5 1.5M15.5 6L13 7.5M2.5 14l2.5-1.5M15.5 14L13 12.5M6.5 2.5l1 1.5M11.5 2.5l-1 1.5" stroke="#fff" stroke-width="1.4"/></svg>
<div style="position:absolute;left:338.6px;top:1183.04px;font-size:14px;line-height:14px;color:#333a4b;white-space:nowrap;-webkit-text-stroke:0.2px #333a4b;">Task overdue</div>
<div style="position:absolute;left:338.6px;top:1204.08px;font-size:11px;line-height:11px;color:#7c8598;white-space:nowrap;"><span style="color:#4a6ff0;-webkit-text-stroke:0.15px #4a6ff0;">Wordpress Project</span> is on hold and takes longer than usual.</div>
<div style="position:absolute;right:1143.2px;top:1187.82px;font-size:12.6px;line-height:12.6px;color:#9aa2b1;white-space:nowrap;">09:43</div>
<svg style="position:absolute;left:727.0px;top:1188.2px;" width="14" height="15" viewBox="0 0 14 15" fill="none"><circle cx="7" cy="8.5" r="5.6" stroke="#9aa2b1" stroke-width="1.2"/><path d="M7 8.5L5 10.5M5 1.2h4M7 1.2v1.7M11.5 3.5l1 1" stroke="#9aa2b1" stroke-width="1.2"/></svg>
<div style="position:absolute;left:289.8px;top:1242.8px;width:40px;height:40px;border-radius:50%;overflow:hidden;box-sizing:border-box;"><div><svg width="40" height="40" viewBox="0 0 40 40" style="display:block"><defs><clipPath id="av2"><circle cx="20" cy="20" r="20"/></clipPath></defs><g clip-path="url(#av2)"><rect width="40" height="40" fill="#ebe7e3"/><ellipse cx="16.5" cy="13" rx="7" ry="7" fill="#2a1c17"/><path d="M8 40c0-10 4-15 10-15s10 5 10 15z" fill="#d8bea4"/><path d="M16 26l2 14 2-14z" fill="#1e1e22"/><ellipse cx="18" cy="17" rx="4.3" ry="5.5" fill="#9c6a4f"/><rect x="25" y="30" width="5" height="7" fill="#cfcfd3"/></g></svg></div></div>
<div style="position:absolute;left:338.6px;top:1242.06px;font-size:14px;line-height:14px;color:#333a4b;white-space:nowrap;-webkit-text-stroke:0.2px #333a4b;">New Lead Manger</div>
<div style="position:absolute;left:338.6px;top:1263.10px;font-size:11px;line-height:11px;color:#7c8598;white-space:nowrap;">Manuel Labor finished task <span style="color:#4a6ff0;-webkit-text-stroke:0.15px #4a6ff0;">Program management</span></div>
<div style="position:absolute;right:1143.2px;top:1246.84px;font-size:12.6px;line-height:12.6px;color:#9aa2b1;white-space:nowrap;">10-08-22</div>
<svg style="position:absolute;left:711.0px;top:1248.3px;" width="13" height="13" viewBox="0 0 13 13" fill="none"><rect x="1" y="2" width="11" height="10" rx="1" stroke="#9aa2b1" stroke-width="1.1"/><path d="M1 4.8h11M4 1v2M9 1v2M4.5 8.5l1.5 1.3 2.8-2.8" stroke="#9aa2b1" stroke-width="1.1"/></svg>
<div style="position:absolute;left:289.8px;top:1301.8px;width:40px;height:40px;border-radius:50%;background:#fa63ab;"></div>
<svg style="position:absolute;left:300.8px;top:1312.8px;" width="18" height="18" viewBox="0 0 18 18" fill="none"><circle cx="7.5" cy="5.8" r="3" stroke="#fff" stroke-width="1.5"/><path d="M2 15.5v-.8a5.5 5.5 0 0 1 11 0v.8z" stroke="#fff" stroke-width="1.5" stroke-linejoin="round"/><path d="M14.5 5v5M12 7.5h5" stroke="#fff" stroke-width="1.4"/></svg>
<div style="position:absolute;left:338.6px;top:1301.08px;font-size:14px;line-height:14px;color:#333a4b;white-space:nowrap;-webkit-text-stroke:0.2px #333a4b;">New contact added</div>
<div style="position:absolute;left:338.6px;top:1322.12px;font-size:11px;line-height:11px;color:#7c8598;white-space:nowrap;"><span style="color:#4a6ff0;-webkit-text-stroke:0.15px #4a6ff0;">Adam Ava</span> contact has been added to your contact list.</div>
<div style="position:absolute;right:1143.2px;top:1305.86px;font-size:12.6px;line-height:12.6px;color:#9aa2b1;white-space:nowrap;">10-08-22</div>
<svg style="position:absolute;left:711.0px;top:1307.3px;" width="13" height="13" viewBox="0 0 13 13" fill="none"><rect x="1" y="2" width="11" height="10" rx="1" stroke="#9aa2b1" stroke-width="1.1"/><path d="M1 4.8h11M4 1v2M9 1v2M4.5 8.5l1.5 1.3 2.8-2.8" stroke="#9aa2b1" stroke-width="1.1"/></svg>
<div style="position:absolute;left:289.8px;top:1360.8px;width:40px;height:40px;border-radius:50%;overflow:hidden;box-sizing:border-box;"><div><svg width="40" height="40" viewBox="0 0 40 40" style="display:block"><defs><clipPath id="av3"><circle cx="20" cy="20" r="20"/></clipPath></defs><g clip-path="url(#av3)"><rect width="40" height="40" fill="#c0ccd4"/><path d="M2 40c0-10 7-14 18-14s18 4 18 14z" fill="#e1ac2d"/><ellipse cx="20" cy="17" rx="6" ry="7.5" fill="#a67352"/><path d="M15 19c0 5 2.5 7 5 7s5-2 5-7c-1.5 1.5-3 2-5 2s-3.5-.5-5-2z" fill="#2b201b"/><path d="M13.5 13c0-5 3-8 6.5-8s6.5 3 6.5 8c-2-1.2-4-1.8-6.5-1.8s-4.5.6-6.5 1.8z" fill="#b3302a"/><path d="M13 27q7 4 14 0" stroke="#2d3b4a" stroke-width="2.5" fill="none"/></g></svg></div></div>
<div style="position:absolute;left:338.6px;top:1360.10px;font-size:14px;line-height:14px;color:#333a4b;white-space:nowrap;-webkit-text-stroke:0.2px #333a4b;">Someone followed</div>
<div style="position:absolute;left:338.6px;top:1381.14px;font-size:11px;line-height:11px;color:#7c8598;white-space:nowrap;">Genni commented on <span style="color:#4a6ff0;-webkit-text-stroke:0.15px #4a6ff0;">Instgram Profile</span></div>
<div style="position:absolute;right:1143.2px;top:1364.88px;font-size:12.6px;line-height:12.6px;color:#9aa2b1;white-space:nowrap;">12:01</div>
<svg style="position:absolute;left:727.0px;top:1365.3px;" width="14" height="15" viewBox="0 0 14 15" fill="none"><circle cx="7" cy="8.5" r="5.6" stroke="#9aa2b1" stroke-width="1.2"/><path d="M7 8.5L5 10.5M5 1.2h4M7 1.2v1.7M11.5 3.5l1 1" stroke="#9aa2b1" stroke-width="1.2"/></svg>
<!-- leads -->
<div class="card" style="left:822px;top:996px;width:526px;height:419px;"></div>
<div style="position:absolute;left:846.6px;top:1012.81px;font-size:16px;line-height:16px;color:#333a4b;white-space:nowrap;-webkit-text-stroke:0.25px #333a4b;">Recent Leads</div>
<div style="position:absolute;left:822.0px;top:1046.0px;width:526.0px;height:1.0px;background:#edf0f6;"></div>
<div style="position:absolute;left:846.6px;top:1059.89px;font-size:12px;line-height:12px;color:#333a4b;font-weight:bold;white-space:nowrap;">NAME</div>
<div style="position:absolute;left:1010.8px;top:1059.89px;font-size:12px;line-height:12px;color:#333a4b;font-weight:bold;white-space:nowrap;">POINTS</div>
<div style="position:absolute;left:1094.7px;top:1059.89px;font-size:12px;line-height:12px;color:#333a4b;font-weight:bold;white-space:nowrap;">DEPARTMENT</div>
<div style="position:absolute;left:1265.7px;top:1059.89px;font-size:12px;line-height:12px;color:#333a4b;font-weight:bold;white-space:nowrap;">GROWTH</div>
<div style="position:absolute;left:822.0px;top:1082.0px;width:526.0px;height:1.0px;background:#edf0f6;"></div>
<div style="position:absolute;left:845.9px;top:1095.7px;width:40px;height:40px;border-radius:50%;overflow:hidden;box-sizing:border-box;"><div><svg width="40" height="40" viewBox="0 0 40 40" style="display:block"><defs><clipPath id="av4"><circle cx="20" cy="20" r="20"/></clipPath></defs><g clip-path="url(#av4)"><rect width="40" height="40" fill="#cfd3da"/><rect x="0" y="0" width="40" height="16" fill="#8d949c"/><ellipse cx="20" cy="27" rx="12" ry="13" fill="#c9a27c"/><ellipse cx="20" cy="42" rx="19" ry="12" fill="#b9bcc4"/><ellipse cx="20" cy="20" rx="6" ry="7.5" fill="#e4b79c"/><path d="M10 17c0-7 4.5-11 10-11s10 4 10 11c-3-2-6.5-3-10-3s-7 1-10 3z" fill="#1d1b1e"/><path d="M17.5 24.5q2.5 1.5 5 0" stroke="#b4485a" stroke-width="1.2" fill="none"/></g></svg></div></div>
<div style="position:absolute;left:894.7px;top:1098.70px;font-size:14px;line-height:14px;color:#333a4b;white-space:nowrap;-webkit-text-stroke:0.2px #333a4b;">Robert anii</div>
<div style="position:absolute;left:894.7px;top:1119.14px;font-size:11px;line-height:11px;color:#a2aab9;white-space:nowrap;">web developer</div>
<div style="position:absolute;left:1010.8px;top:1108.70px;font-size:14px;line-height:14px;color:#333a4b;white-space:nowrap;">25</div>
<div style="position:absolute;left:1094.7px;top:1107.3px;width:116.0px;height:18.3px;background:#edf0fd;border-radius:4px;"></div>
<div style="position:absolute;left:952.7px;width:400px;text-align:center;top:1110.74px;font-size:11px;line-height:11px;color:#4a6ff0;white-space:nowrap;-webkit-text-stroke:0.15px #4a6ff0;">Front-end Developer</div>
<div style="position:absolute;right:601.5px;top:1105.68px;font-size:12.6px;line-height:12.6px;color:#333a4b;white-space:nowrap;">90%</div>
<svg style="position:absolute;left:1321.0px;top:1104.5px;" width="9" height="10" viewBox="0 0 9 10" fill="none"><path d="M4.5 9.6V1.2M1 4.6l3.5-3.4L8 4.6" stroke="#4a77ec" stroke-width="1.1" stroke-linecap="round" stroke-linejoin="round"/></svg>
<div style="position:absolute;left:1265.7px;top:1126.0px;width:66.3px;height:5.0px;background:#f0f2f7;border-radius:3px;"></div>
<div style="position:absolute;left:1265.7px;top:1126.0px;width:59.3px;height:5.0px;background:#4a77ec;border-radius:3px 0 0 3px;background-image:linear-gradient(45deg,rgba(255,255,255,.15) 25%,transparent 25%,transparent 50%,rgba(255,255,255,.15) 50%,rgba(255,255,255,.15) 75%,transparent 75%);background-size:10px 10px;"></div>
<div style="position:absolute;left:822.0px;top:1148.7px;width:526.0px;height:1.0px;background:#edf0f6;"></div>
<div style="position:absolute;left:845.9px;top:1162.2px;width:40px;height:40px;border-radius:50%;overflow:hidden;box-sizing:border-box;"><div><svg width="40" height="40" viewBox="0 0 40 40" style="display:block"><defs><clipPath id="av5"><circle cx="20" cy="20" r="20"/></clipPath></defs><g clip-path="url(#av5)"><rect width="40" height="40" fill="#3f5563"/><ellipse cx="20" cy="19" rx="16" ry="15" fill="#17110f"/><ellipse cx="20" cy="44" rx="17" ry="14" fill="#f1f1f1"/><ellipse cx="20" cy="21" rx="6.3" ry="7.8" fill="#c58d6e"/><path d="M14.5 18.5h11" stroke="#111" stroke-width="1.3"/><path d="M16.5 25.5q3.5 2 7 0" stroke="#fff" stroke-width="1.2" fill="none"/></g></svg></div></div>
<div style="position:absolute;left:894.7px;top:1165.20px;font-size:14px;line-height:14px;color:#333a4b;white-space:nowrap;-webkit-text-stroke:0.2px #333a4b;">Rubi manscho</div>
<div style="position:absolute;left:894.7px;top:1185.64px;font-size:11px;line-height:11px;color:#a2aab9;white-space:nowrap;">UI/UX Designer</div>
<div style="position:absolute;left:1010.8px;top:1175.20px;font-size:14px;line-height:14px;color:#333a4b;white-space:nowrap;">14</div>
<div style="position:absolute;left:1094.7px;top:1173.8px;width:87.0px;height:18.3px;background:#e4f8f1;border-radius:4px;"></div>
<div style="position:absolute;left:938.2px;width:400px;text-align:center;top:1177.24px;font-size:11px;line-height:11px;color:#1fc28e;white-space:nowrap;-webkit-text-stroke:0.15px #1fc28e;">Manufacturing</div>
<div style="position:absolute;right:601.5px;top:1172.18px;font-size:12.6px;line-height:12.6px;color:#333a4b;white-space:nowrap;">80%</div>
<svg style="position:absolute;left:1321.0px;top:1171.0px;" width="9" height="10" viewBox="0 0 9 10" fill="none"><path d="M4.5 9.6V1.2M1 4.6l3.5-3.4L8 4.6" stroke="#fbbc2d" stroke-width="1.1" stroke-linecap="round" stroke-linejoin="round"/></svg>
<div style="position:absolute;left:1265.7px;top:1192.5px;width:66.3px;height:5.0px;background:#f0f2f7;border-radius:3px;"></div>
<div style="position:absolute;left:1265.7px;top:1192.5px;width:53.1px;height:5.0px;background:#fbbc2d;border-radius:3px 0 0 3px;background-image:linear-gradient(45deg,rgba(255,255,255,.15) 25%,transparent 25%,transparent 50%,rgba(255,255,255,.15) 50%,rgba(255,255,255,.15) 75%,transparent 75%);background-size:10px 10px;"></div>
<div style="position:absolute;left:822.0px;top:1215.2px;width:526.0px;height:1.0px;background:#edf0f6;"></div>
<div style="position:absolute;left:845.9px;top:1228.7px;width:40px;height:40px;border-radius:50%;overflow:hidden;box-sizing:border-box;"><div><svg width="40" height="40" viewBox="0 0 40 40" style="display:block"><defs><clipPath id="av6"><circle cx="20" cy="20" r="20"/></clipPath></defs><g clip-path="url(#av6)"><rect width="40" height="40" fill="#f7a4a4"/><ellipse cx="20" cy="22" rx="9.5" ry="15" fill="#4a2a20"/><path d="M6 40c0-7 6-10 14-10s14 3 14 10z" fill="#fff"/><path d="M6 34h28v2.5H6zM5 38.5h30V41H5z" fill="#2eb2d6"/><ellipse cx="20" cy="16.5" rx="5.3" ry="6.8" fill="#e0a78d"/><path d="M17.5 20q2.5 1.8 5 0" stroke="#c0354b" stroke-width="1.3" fill="none"/></g></svg></div></div>
<div style="position:absolute;left:894.7px;top:1231.70px;font-size:14px;line-height:14px;color:#333a4b;white-space:nowrap;-webkit-text-stroke:0.2px #333a4b;">Marckh Roz</div>
<div style="position:absolute;left:894.7px;top:1252.14px;font-size:11px;line-height:11px;color:#a2aab9;white-space:nowrap;">Graphic Designer</div>
<div style="position:absolute;left:1010.8px;top:1241.70px;font-size:14px;line-height:14px;color:#333a4b;white-space:nowrap;">18</div>
<div style="position:absolute;left:1094.7px;top:1240.3px;width:65.0px;height:18.3px;background:#fdeaea;border-radius:4px;"></div>
<div style="position:absolute;left:927.2px;width:400px;text-align:center;top:1243.74px;font-size:11px;line-height:11px;color:#ef5151;white-space:nowrap;-webkit-text-stroke:0.15px #ef5151;">Marketing</div>
<div style="position:absolute;right:601.5px;top:1238.68px;font-size:12.6px;line-height:12.6px;color:#333a4b;white-space:nowrap;">60%</div>
<svg style="position:absolute;left:1321.0px;top:1237.5px;" width="9" height="10" viewBox="0 0 9 10" fill="none"><path d="M4.5 9.6V1.2M1 4.6l3.5-3.4L8 4.6" stroke="#1cc5ee" stroke-width="1.1" stroke-linecap="round" stroke-linejoin="round"/></svg>
<div style="position:absolute;left:1265.7px;top:1259.0px;width:66.3px;height:5.0px;background:#f0f2f7;border-radius:3px;"></div>
<div style="position:absolute;left:1265.7px;top:1259.0px;width:39.0px;height:5.0px;background:#1cc5ee;border-radius:3px 0 0 3px;background-image:linear-gradient(45deg,rgba(255,255,255,.15) 25%,transparent 25%,transparent 50%,rgba(255,255,255,.15) 50%,rgba(255,255,255,.15) 75%,transparent 75%);background-size:10px 10px;"></div>
<div style="position:absolute;left:822.0px;top:1281.7px;width:526.0px;height:1.0px;background:#edf0f6;"></div>
<div style="position:absolute;left:845.9px;top:1295.2px;width:40px;height:40px;border-radius:50%;overflow:hidden;box-sizing:border-box;"><div><svg width="40" height="40" viewBox="0 0 40 40" style="display:block"><defs><clipPath id="av7"><circle cx="20" cy="20" r="20"/></clipPath></defs><g clip-path="url(#av7)"><rect width="40" height="40" fill="#c9bc9c"/><rect x="26" y="0" width="1.5" height="40" fill="#b3a684"/><rect x="0" y="22" width="40" height="1.2" fill="#b3a684"/><path d="M12 14c0-2 3-3 8-3s8 1 8 3v20H12z" fill="#e9edf5"/><path d="M13 33h14v7H13z" fill="#4d7ab8"/><ellipse cx="20" cy="8" rx="3.6" ry="4.4" fill="#b98464"/><path d="M16.4 6.5c0-2.5 1.5-3.5 3.6-3.5s3.6 1 3.6 3.5z" fill="#221c19"/><path d="M17 7.8h6" stroke="#111" stroke-width="1.4"/></g></svg></div></div>
<div style="position:absolute;left:894.7px;top:1298.20px;font-size:14px;line-height:14px;color:#333a4b;white-space:nowrap;-webkit-text-stroke:0.2px #333a4b;">Jackson Mach</div>
<div style="position:absolute;left:894.7px;top:1318.64px;font-size:11px;line-height:11px;color:#a2aab9;white-space:nowrap;">senior. Developer</div>
<div style="position:absolute;left:1010.8px;top:1308.20px;font-size:14px;line-height:14px;color:#333a4b;white-space:nowrap;">10</div>
<div style="position:absolute;left:1094.7px;top:1306.8px;width:116.0px;height:18.3px;background:#e3f8fd;border-radius:4px;"></div>
<div style="position:absolute;left:952.7px;width:400px;text-align:center;top:1310.24px;font-size:11px;line-height:11px;color:#18c3ef;white-space:nowrap;-webkit-text-stroke:0.15px #18c3ef;">Front-end Developer</div>
<div style="position:absolute;right:601.5px;top:1305.18px;font-size:12.6px;line-height:12.6px;color:#333a4b;white-space:nowrap;">35%</div>
<svg style="position:absolute;left:1321.0px;top:1304.0px;" width="9" height="10" viewBox="0 0 9 10" fill="none"><path d="M4.5 9.6V1.2M1 4.6l3.5-3.4L8 4.6" stroke="#6c4ee6" stroke-width="1.1" stroke-linecap="round" stroke-linejoin="round"/></svg>
<div style="position:absolute;left:1265.7px;top:1325.5px;width:66.3px;height:5.0px;background:#f0f2f7;border-radius:3px;"></div>
<div style="position:absolute;left:1265.7px;top:1325.5px;width:30.2px;height:5.0px;background:#6c4ee6;border-radius:3px 0 0 3px;background-image:linear-gradient(45deg,rgba(255,255,255,.15) 25%,transparent 25%,transparent 50%,rgba(255,255,255,.15) 50%,rgba(255,255,255,.15) 75%,transparent 75%);background-size:10px 10px;"></div>
<div style="position:absolute;left:822.0px;top:1348.2px;width:526.0px;height:1.0px;background:#edf0f6;"></div>
<div style="position:absolute;left:845.9px;top:1361.7px;width:40px;height:40px;border-radius:50%;overflow:hidden;box-sizing:border-box;"><div><svg width="40" height="40" viewBox="0 0 40 40" style="display:block"><defs><clipPath id="av8"><circle cx="20" cy="20" r="20"/></clipPath></defs><g clip-path="url(#av8)"><rect width="40" height="40" fill="#747474"/><path d="M3 40c0-8 7-11 17-11s17 3 17 11z" fill="#d2d2d2"/><ellipse cx="20" cy="19" rx="7" ry="8.8" fill="#d3a287"/><path d="M12.5 17c-.5-7 3.5-10 7.5-10s8.5 3 7.5 10c-1.5-3-4-4.5-7.5-4.5s-6 1.5-7.5 4.5z" fill="#1b1715"/><path d="M15 23.5q5 4.5 10 0" stroke="#6b4a3c" stroke-width="1.6" fill="none"/></g></svg></div></div>
<div style="position:absolute;left:894.7px;top:1364.70px;font-size:14px;line-height:14px;color:#333a4b;white-space:nowrap;-webkit-text-stroke:0.2px #333a4b;">Rubi manscho</div>
<div style="position:absolute;left:894.7px;top:1385.14px;font-size:11px;line-height:11px;color:#a2aab9;white-space:nowrap;">UI/UX Designer</div>
<div style="position:absolute;left:1010.8px;top:1374.70px;font-size:14px;line-height:14px;color:#333a4b;white-space:nowrap;">14</div>
<div style="position:absolute;left:1094.7px;top:1373.3px;width:87.0px;height:18.3px;background:#e4f8f1;border-radius:4px;"></div>
<div style="position:absolute;left:938.2px;width:400px;text-align:center;top:1376.74px;font-size:11px;line-height:11px;color:#1fc28e;white-space:nowrap;-webkit-text-stroke:0.15px #1fc28e;">Manufacturing</div>
<div style="position:absolute;right:601.5px;top:1371.68px;font-size:12.6px;line-height:12.6px;color:#333a4b;white-space:nowrap;">80%</div>
<svg style="position:absolute;left:1321.0px;top:1370.5px;" width="9" height="10" viewBox="0 0 9 10" fill="none"><path d="M4.5 9.6V1.2M1 4.6l3.5-3.4L8 4.6" stroke="#f55aa5" stroke-width="1.1" stroke-linecap="round" stroke-linejoin="round"/></svg>
<div style="position:absolute;left:1265.7px;top:1392.0px;width:66.3px;height:5.0px;background:#f0f2f7;border-radius:3px;"></div>
<div style="position:absolute;left:1265.7px;top:1392.0px;width:53.1px;height:5.0px;background:#f55aa5;border-radius:3px 0 0 3px;background-image:linear-gradient(45deg,rgba(255,255,255,.15) 25%,transparent 25%,transparent 50%,rgba(255,255,255,.15) 50%,rgba(255,255,255,.15) 75%,transparent 75%);background-size:10px 10px;"></div>
<!-- monthly -->
<div class="card" style="left:1374px;top:996px;width:525px;height:409px;"></div>
<div style="position:absolute;left:1398.4px;top:1020.41px;font-size:16px;line-height:16px;color:#333a4b;white-space:nowrap;-webkit-text-stroke:0.25px #333a4b;">Monthly Projects</div>
<div style="position:absolute;left:1374.0px;top:1060.0px;width:525.0px;height:1.0px;background:#edf0f6;"></div>
<div style="position:absolute;left:1844.2px;top:1012.4px;width:30.5px;height:31.3px;background:#ebeffd;border:1px solid #d7dffa;border-radius:4px;"></div>
<svg style="position:absolute;left:1852.5px;top:1021.0px;" width="14" height="13" viewBox="0 0 14 13" fill="none"><path d="M2.5 1v11M7 1v11M11.5 1v11" stroke="#4a77ec" stroke-width="1.3"/><path d="M1 8h3M5.5 4h3M10 9h3" stroke="#4a77ec" stroke-width="1.8"/></svg>
<div style="position:absolute;left:1393.8px;top:1081.0px;width:40px;height:40px;border-radius:50%;background:#ecf0fd;"></div>
<svg style="position:absolute;left:1405.0px;top:1090.0px;" width="18" height="20" viewBox="0 0 18 20" fill="none"><path d="M4 3.5a1.5 1.5 0 0 1 1.5-1.5h6l4 4v10.5" stroke="#4a6ff0" stroke-width="1.3" stroke-linejoin="round"/><path d="M11.5 2v4h4M15.5 16.5a1.5 1.5 0 0 1-1.5 1.5" stroke="#4a6ff0" stroke-width="1.3"/><path d="M4 3.5V11" stroke="#4a6ff0" stroke-width="1.3"/></svg>
<div style="position:absolute;left:1213.3px;width:400px;text-align:center;top:1102.40px;font-size:7.5px;line-height:7.5px;color:#4a6ff0;white-space:nowrap;letter-spacing:-0.2px;">PSD</div>
<div style="position:absolute;left:1442.8px;top:1084.77px;font-size:13.8px;line-height:13.8px;color:#333a4b;white-space:nowrap;-webkit-text-stroke:0.2px #333a4b;">PSD Projects</div>
<div style="position:absolute;left:1442.8px;top:1104.88px;font-size:11.3px;line-height:11.3px;color:#a2aab9;white-space:nowrap;">Pdf format</div>
<div style="position:absolute;left:1796.3px;top:1082.4px;width:31.4px;height:30.2px;background:#fff;border:1px solid #edf0f5;border-radius:4px;"></div>
<svg style="position:absolute;left:1806.5px;top:1091.5px;" width="11" height="12" viewBox="0 0 11 12" fill="none"><path d="M1 2.5h9M3.5 2.5V1h4v1.5M2 2.5l.7 8.5h5.6l.7-8.5M5.5 5v4" stroke="#1c2230" stroke-width="1.3"/></svg>
<div style="position:absolute;left:1839.3px;top:1082.4px;width:30.5px;height:30.2px;background:#fff;border:1px solid #edf0f5;border-radius:4px;"></div>
<svg style="position:absolute;left:1849.1px;top:1091.5px;" width="12" height="11" viewBox="0 0 12 11" fill="none"><path d="M6 1v6.5M3.2 4.8L6 7.6l2.8-2.8M1 7v3h10V7" stroke="#1c2230" stroke-width="1.4"/></svg>
<div style="position:absolute;left:1393.8px;top:1146.9px;width:40px;height:40px;border-radius:50%;background:#fff6e5;"></div>
<div style="position:absolute;left:1404.8px;top:1157.9px;width:18px;height:18px;border-radius:50%;border:1.6px solid #f7b731;"></div>
<div style="position:absolute;left:1407.3px;top:1160.4px;width:13px;height:13px;border-radius:50%;background:#f7b731;"></div>
<div style="position:absolute;left:1213.8px;width:400px;text-align:center;top:1161.29px;font-size:12px;line-height:12px;color:#fff6e5;font-weight:bold;white-space:nowrap;font-family:"Liberation Serif",serif;">W</div>
<div style="position:absolute;left:1442.8px;top:1150.67px;font-size:13.8px;line-height:13.8px;color:#333a4b;white-space:nowrap;-webkit-text-stroke:0.2px #333a4b;">Wordpress Projects</div>
<div style="position:absolute;left:1442.8px;top:1170.78px;font-size:11.3px;line-height:11.3px;color:#a2aab9;white-space:nowrap;">Word format</div>
<div style="position:absolute;left:1796.3px;top:1148.3px;width:31.4px;height:30.2px;background:#fff;border:1px solid #edf0f5;border-radius:4px;"></div>
<svg style="position:absolute;left:1806.5px;top:1157.4px;" width="11" height="12" viewBox="0 0 11 12" fill="none"><path d="M1 2.5h9M3.5 2.5V1h4v1.5M2 2.5l.7 8.5h5.6l.7-8.5M5.5 5v4" stroke="#1c2230" stroke-width="1.3"/></svg>
<div style="position:absolute;left:1839.3px;top:1148.3px;width:30.5px;height:30.2px;background:#fff;border:1px solid #edf0f5;border-radius:4px;"></div>
<svg style="position:absolute;left:1849.1px;top:1157.4px;" width="12" height="11" viewBox="0 0 12 11" fill="none"><path d="M6 1v6.5M3.2 4.8L6 7.6l2.8-2.8M1 7v3h10V7" stroke="#1c2230" stroke-width="1.4"/></svg>
<div style="position:absolute;left:1393.8px;top:1212.8px;width:40px;height:40px;border-radius:50%;background:#e4f8f2;"></div>
<svg style="position:absolute;left:1405.0px;top:1221.8px;" width="18" height="20" viewBox="0 0 18 20" fill="none"><path d="M4 3.5a1.5 1.5 0 0 1 1.5-1.5h6l4 4v10.5" stroke="#1fc28e" stroke-width="1.3" stroke-linejoin="round"/><path d="M11.5 2v4h4M15.5 16.5a1.5 1.5 0 0 1-1.5 1.5" stroke="#1fc28e" stroke-width="1.3"/><path d="M4 3.5V11" stroke="#1fc28e" stroke-width="1.3"/></svg>
<div style="position:absolute;left:1213.3px;width:400px;text-align:center;top:1234.62px;font-size:7px;line-height:7px;color:#1fc28e;white-space:nowrap;letter-spacing:-0.2px;">HTML</div>
<div style="position:absolute;left:1442.8px;top:1216.57px;font-size:13.8px;line-height:13.8px;color:#333a4b;white-space:nowrap;-webkit-text-stroke:0.2px #333a4b;">HTML &amp; CSS3 Projects</div>
<div style="position:absolute;left:1442.8px;top:1236.68px;font-size:11.3px;line-height:11.3px;color:#a2aab9;white-space:nowrap;">HTML format</div>
<div style="position:absolute;left:1796.3px;top:1214.2px;width:31.4px;height:30.2px;background:#fff;border:1px solid #edf0f5;border-radius:4px;"></div>
<svg style="position:absolute;left:1806.5px;top:1223.3px;" width="11" height="12" viewBox="0 0 11 12" fill="none"><path d="M1 2.5h9M3.5 2.5V1h4v1.5M2 2.5l.7 8.5h5.6l.7-8.5M5.5 5v4" stroke="#1c2230" stroke-width="1.3"/></svg>
<div style="position:absolute;left:1839.3px;top:1214.2px;width:30.5px;height:30.2px;background:#fff;border:1px solid #edf0f5;border-radius:4px;"></div>
<svg style="position:absolute;left:1849.1px;top:1223.3px;" width="12" height="11" viewBox="0 0 12 11" fill="none"><path d="M6 1v6.5M3.2 4.8L6 7.6l2.8-2.8M1 7v3h10V7" stroke="#1c2230" stroke-width="1.4"/></svg>
<div style="position:absolute;left:1393.8px;top:1278.7px;width:40px;height:40px;border-radius:50%;background:#e2f8fd;"></div>
<svg style="position:absolute;left:1405.0px;top:1287.7px;" width="18" height="20" viewBox="0 0 18 20" fill="none"><path d="M4 3.5a1.5 1.5 0 0 1 1.5-1.5h6l4 4v10.5" stroke="#18c3ef" stroke-width="1.3" stroke-linejoin="round"/><path d="M11.5 2v4h4M15.5 16.5a1.5 1.5 0 0 1-1.5 1.5" stroke="#18c3ef" stroke-width="1.3"/><path d="M4 3.5V11" stroke="#18c3ef" stroke-width="1.3"/></svg>
<div style="position:absolute;left:1213.3px;width:400px;text-align:center;top:1300.52px;font-size:7px;line-height:7px;color:#18c3ef;white-space:nowrap;letter-spacing:-0.2px;">JAVA</div>
<div style="position:absolute;left:1442.8px;top:1282.47px;font-size:13.8px;line-height:13.8px;color:#333a4b;white-space:nowrap;-webkit-text-stroke:0.2px #333a4b;">Java Projects</div>
<div style="position:absolute;left:1442.8px;top:1302.58px;font-size:11.3px;line-height:11.3px;color:#a2aab9;white-space:nowrap;">Pdf format</div>
<div style="position:absolute;left:1796.3px;top:1280.1px;width:31.4px;height:30.2px;background:#fff;border:1px solid #edf0f5;border-radius:4px;"></div>
<svg style="position:absolute;left:1806.5px;top:1289.2px;" width="11" height="12" viewBox="0 0 11 12" fill="none"><path d="M1 2.5h9M3.5 2.5V1h4v1.5M2 2.5l.7 8.5h5.6l.7-8.5M5.5 5v4" stroke="#1c2230" stroke-width="1.3"/></svg>
<div style="position:absolute;left:1839.3px;top:1280.1px;width:30.5px;height:30.2px;background:#fff;border:1px solid #edf0f5;border-radius:4px;"></div>
<svg style="position:absolute;left:1849.1px;top:1289.2px;" width="12" height="11" viewBox="0 0 12 11" fill="none"><path d="M6 1v6.5M3.2 4.8L6 7.6l2.8-2.8M1 7v3h10V7" stroke="#1c2230" stroke-width="1.4"/></svg>
<div style="position:absolute;left:1393.8px;top:1344.6px;width:40px;height:40px;border-radius:50%;background:#fde9f3;"></div>
<svg style="position:absolute;left:1405.0px;top:1353.6px;" width="18" height="20" viewBox="0 0 18 20" fill="none"><path d="M4 3.5a1.5 1.5 0 0 1 1.5-1.5h6l4 4v10.5" stroke="#f55aa5" stroke-width="1.3" stroke-linejoin="round"/><path d="M11.5 2v4h4M15.5 16.5a1.5 1.5 0 0 1-1.5 1.5" stroke="#f55aa5" stroke-width="1.3"/><path d="M4 3.5V11" stroke="#f55aa5" stroke-width="1.3"/></svg>
<div style="position:absolute;left:1213.3px;width:400px;text-align:center;top:1366.00px;font-size:7.5px;line-height:7.5px;color:#f55aa5;white-space:nowrap;letter-spacing:-0.2px;">DOC</div>
<div style="position:absolute;left:1442.8px;top:1348.37px;font-size:13.8px;line-height:13.8px;color:#333a4b;white-space:nowrap;-webkit-text-stroke:0.2px #333a4b;">Backend Projects</div>
<div style="position:absolute;left:1442.8px;top:1368.48px;font-size:11.3px;line-height:11.3px;color:#a2aab9;white-space:nowrap;">Doc format</div>
<div style="position:absolute;left:1796.3px;top:1346.0px;width:31.4px;height:30.2px;background:#fff;border:1px solid #edf0f5;border-radius:4px;"></div>
<svg style="position:absolute;left:1806.5px;top:1355.1px;" width="11" height="12" viewBox="0 0 11 12" fill="none"><path d="M1 2.5h9M3.5 2.5V1h4v1.5M2 2.5l.7 8.5h5.6l.7-8.5M5.5 5v4" stroke="#1c2230" stroke-width="1.3"/></svg>
<div style="position:absolute;left:1839.3px;top:1346.0px;width:30.5px;height:30.2px;background:#fff;border:1px solid #edf0f5;border-radius:4px;"></div>
<svg style="position:absolute;left:1849.1px;top:1355.1px;" width="12" height="11" viewBox="0 0 12 11" fill="none"><path d="M6 1v6.5M3.2 4.8L6 7.6l2.8-2.8M1 7v3h10V7" stroke="#1c2230" stroke-width="1.4"/></svg>
<!-- summary -->
<div class="card" style="left:271px;top:1446px;width:1628px;height:416px;"></div>
<div style="position:absolute;left:295.0px;top:1471.81px;font-size:16px;line-height:16px;color:#333a4b;white-space:nowrap;-webkit-text-stroke:0.25px #333a4b;">Project Summary</div>
<div style="position:absolute;left:271.0px;top:1513.0px;width:1628.0px;height:1.0px;background:#edf0f6;"></div>
<div style="position:absolute;left:1647.3px;top:1462.0px;width:140.5px;height:35.0px;background:#fff;border:1px solid #e6eaf2;border-radius:4px;"></div>
<svg style="position:absolute;left:1663.5px;top:1470.5px;" width="15" height="15" viewBox="0 0 15 15" fill="none"><rect x="1" y="2.5" width="13" height="11.5" rx="1.5" stroke="#4a77ec" stroke-width="1.1"/><path d="M1 5.5h13M4.5 1v3M10.5 1v3" stroke="#4a77ec" stroke-width="1.1"/><text x="7.5" y="12.3" font-size="5.5" font-family="Liberation Sans" fill="#4a77ec" text-anchor="middle">19</text></svg>
<div style="position:absolute;left:1682.7px;top:1472.22px;font-size:13.5px;line-height:13.5px;color:#4a77ec;white-space:nowrap;">Sort By: New</div>
<svg style="position:absolute;left:1766.0px;top:1476.5px;" width="10" height="7" viewBox="0 0 10 7" fill="none"><path d="M1 1l4 4 4-4" stroke="#4a77ec" stroke-width="1.2"/></svg>
<div style="position:absolute;left:1796.0px;top:1462.0px;width:78.5px;height:35.0px;background:#4a77ec;border-radius:4px;"></div>
<div style="position:absolute;left:1809.5px;top:1471.80px;font-size:14px;line-height:14px;color:#fff;white-space:nowrap;-webkit-text-stroke:0.25px #fff;">Filter</div>
<svg style="position:absolute;left:1847.5px;top:1471.5px;" width="15" height="15" viewBox="0 0 15 15" fill="none"><circle cx="7.5" cy="7.5" r="6.5" stroke="#fff" stroke-width="1.3"/><path d="M4 5.3h7M5.2 7.7h4.6M6.5 10.1h2" stroke="#fff" stroke-width="1.3"/></svg>
<div style="position:absolute;left:290.4px;top:1533.5px;width:1589.0px;height:270.9px;border:1px solid #e9edf4;"></div>
<div style="position:absolute;left:407.3px;top:1533.5px;width:1.0px;height:270.9px;background:#e9edf4;"></div>
<div style="position:absolute;left:696.5px;top:1533.5px;width:1.0px;height:270.9px;background:#e9edf4;"></div>
<div style="position:absolute;left:961.5px;top:1533.5px;width:1.0px;height:270.9px;background:#e9edf4;"></div>
<div style="position:absolute;left:1242.6px;top:1533.5px;width:1.0px;height:270.9px;background:#e9edf4;"></div>
<div style="position:absolute;left:1458.5px;top:1533.5px;width:1.0px;height:270.9px;background:#e9edf4;"></div>
<div style="position:absolute;left:1674.4px;top:1533.5px;width:1.0px;height:270.9px;background:#e9edf4;"></div>
<div style="position:absolute;left:290.4px;top:1569.6px;width:1589.0px;height:1.0px;background:#e9edf4;"></div>
<div style="position:absolute;left:290.4px;top:1628.3px;width:1589.0px;height:1.0px;background:#e9edf4;"></div>
<div style="position:absolute;left:290.4px;top:1687.0px;width:1589.0px;height:1.0px;background:#e9edf4;"></div>
<div style="position:absolute;left:290.4px;top:1745.7px;width:1589.0px;height:1.0px;background:#e9edf4;"></div>
<div style="position:absolute;left:303.5px;top:1546.29px;font-size:12px;line-height:12px;color:#333a4b;font-weight:bold;white-space:nowrap;">S.NO</div>
<div style="position:absolute;left:420.4px;top:1546.29px;font-size:12px;line-height:12px;color:#333a4b;font-weight:bold;white-space:nowrap;">PROJECT NAME</div>
<div style="position:absolute;left:709.6px;top:1546.29px;font-size:12px;line-height:12px;color:#333a4b;font-weight:bold;white-space:nowrap;">TEAM MEMBERS</div>
<div style="position:absolute;left:974.6px;top:1546.29px;font-size:12px;line-height:12px;color:#333a4b;font-weight:bold;white-space:nowrap;">PROJECT TYPE</div>
<div style="position:absolute;left:1255.7px;top:1546.29px;font-size:12px;line-height:12px;color:#333a4b;font-weight:bold;white-space:nowrap;">START DATE</div>
<div style="position:absolute;left:1471.6px;top:1546.29px;font-size:12px;line-height:12px;color:#333a4b;font-weight:bold;white-space:nowrap;">END DATE</div>
<div style="position:absolute;left:1687.5px;top:1546.29px;font-size:12px;line-height:12px;color:#333a4b;font-weight:bold;white-space:nowrap;">STATUS</div>
<div style="position:absolute;left:303.5px;top:1592.1px;width:14.6px;height:14.6px;background:#4a77ec;border-radius:3px;"></div>
<svg style="position:absolute;left:306.0px;top:1594.9px;" width="10" height="9" viewBox="0 0 10 9" fill="none"><path d="M1.5 4.5l2.5 2.5L8.5 2" stroke="#fff" stroke-width="1.7" stroke-linecap="round" stroke-linejoin="round"/></svg>
<div style="position:absolute;left:420.0px;top:1592.82px;font-size:13.8px;line-height:13.8px;color:#333a4b;white-space:nowrap;">Azira - Admin</div>
<div style="position:absolute;left:707.8px;top:1583.4px;width:32px;height:32px;border-radius:50%;overflow:hidden;box-sizing:border-box;border:1.5px solid #fff;"><div style="margin:-1.5px"><svg width="32" height="32" viewBox="0 0 40 40" style="display:block"><defs><clipPath id="av9"><circle cx="20" cy="20" r="20"/></clipPath></defs><g clip-path="url(#av9)"><rect width="40" height="40" fill="#c99bbb"/><ellipse cx="20" cy="22" rx="9.5" ry="14" fill="#2a1a18"/><path d="M5 40c0-8 6-11 15-11s15 3 15 11z" fill="#1c1c28"/><ellipse cx="20" cy="17" rx="5.5" ry="7" fill="#e2b49c"/></g></svg></div></div>
<div style="position:absolute;left:733.5px;top:1583.4px;width:32px;height:32px;border-radius:50%;overflow:hidden;box-sizing:border-box;border:1.5px solid #fff;"><div style="margin:-1.5px"><svg width="32" height="32" viewBox="0 0 40 40" style="display:block"><defs><clipPath id="av10"><circle cx="20" cy="20" r="20"/></clipPath></defs><g clip-path="url(#av10)"><rect width="40" height="40" fill="#cfd3da"/><rect x="0" y="0" width="40" height="16" fill="#8d949c"/><ellipse cx="20" cy="27" rx="12" ry="13" fill="#c9a27c"/><ellipse cx="20" cy="42" rx="19" ry="12" fill="#b9bcc4"/><ellipse cx="20" cy="20" rx="6" ry="7.5" fill="#e4b79c"/><path d="M10 17c0-7 4.5-11 10-11s10 4 10 11c-3-2-6.5-3-10-3s-7 1-10 3z" fill="#1d1b1e"/><path d="M17.5 24.5q2.5 1.5 5 0" stroke="#b4485a" stroke-width="1.2" fill="none"/></g></svg></div></div>
<div style="position:absolute;left:759.2px;top:1583.4px;width:32px;height:32px;border-radius:50%;overflow:hidden;box-sizing:border-box;border:1.5px solid #fff;"><div style="margin:-1.5px"><svg width="32" height="32" viewBox="0 0 40 40" style="display:block"><defs><clipPath id="av11"><circle cx="20" cy="20" r="20"/></clipPath></defs><g clip-path="url(#av11)"><rect width="40" height="40" fill="#ebe7e3"/><ellipse cx="16.5" cy="13" rx="7" ry="7" fill="#2a1c17"/><path d="M8 40c0-10 4-15 10-15s10 5 10 15z" fill="#d8bea4"/><path d="M16 26l2 14 2-14z" fill="#1e1e22"/><ellipse cx="18" cy="17" rx="4.3" ry="5.5" fill="#9c6a4f"/><rect x="25" y="30" width="5" height="7" fill="#cfcfd3"/></g></svg></div></div>
<div style="position:absolute;left:784.9px;top:1583.4px;width:32px;height:32px;border-radius:50%;overflow:hidden;box-sizing:border-box;border:1.5px solid #fff;"><div style="margin:-1.5px"><svg width="32" height="32" viewBox="0 0 40 40" style="display:block"><defs><clipPath id="av12"><circle cx="20" cy="20" r="20"/></clipPath></defs><g clip-path="url(#av12)"><rect width="40" height="40" fill="#c98d66"/><path d="M9 40c0-10 4-14 11-14s11 4 11 14z" fill="#f3f3f3"/><ellipse cx="20" cy="16" rx="5" ry="6.3" fill="#a97556"/><path d="M15 13.5c0-4 2-6 5-6s5 2 5 6c-1.5-1-3-1.5-5-1.5s-3.5.5-5 1.5z" fill="#1d1716"/><path d="M16 19c1 3 2.5 4 4 4s3-1 4-4" stroke="#2a1f1b" stroke-width="2" fill="none"/></g></svg></div></div>
<div style="position:absolute;left:974.6px;top:1592.82px;font-size:13.8px;line-height:13.8px;color:#333a4b;white-space:nowrap;">Bootstrap Admin</div>
<div style="position:absolute;left:1255.8px;top:1592.85px;font-size:14px;line-height:14px;color:#333a4b;white-space:nowrap;letter-spacing:0.45px;">12/05/2020</div>
<div style="position:absolute;left:1471.7px;top:1592.85px;font-size:14px;line-height:14px;color:#333a4b;white-space:nowrap;letter-spacing:0.45px;">01/08/2020</div>
<div style="position:absolute;left:1688.3px;top:1590.2px;width:55.0px;height:18.8px;background:#fff6e8;border-radius:4px;"></div>
<div style="position:absolute;left:1515.8px;width:400px;text-align:center;top:1594.46px;font-size:10.8px;line-height:10.8px;color:#f9b43c;white-space:nowrap;-webkit-text-stroke:0.35px #f9b43c;">Pending</div>
<div style="position:absolute;left:303.5px;top:1650.8px;width:14.6px;height:14.6px;background:#4a77ec;border-radius:3px;"></div>
<svg style="position:absolute;left:306.0px;top:1653.6px;" width="10" height="9" viewBox="0 0 10 9" fill="none"><path d="M1.5 4.5l2.5 2.5L8.5 2" stroke="#fff" stroke-width="1.7" stroke-linecap="round" stroke-linejoin="round"/></svg>
<div style="position:absolute;left:420.0px;top:1651.52px;font-size:13.8px;line-height:13.8px;color:#333a4b;white-space:nowrap;">Admitro - Admin</div>
<div style="position:absolute;left:707.8px;top:1642.1px;width:32px;height:32px;border-radius:50%;overflow:hidden;box-sizing:border-box;border:1.5px solid #fff;"><div style="margin:-1.5px"><svg width="32" height="32" viewBox="0 0 40 40" style="display:block"><defs><clipPath id="av13"><circle cx="20" cy="20" r="20"/></clipPath></defs><g clip-path="url(#av13)"><rect width="40" height="40" fill="#f7a4a4"/><ellipse cx="20" cy="22" rx="9.5" ry="15" fill="#4a2a20"/><path d="M6 40c0-7 6-10 14-10s14 3 14 10z" fill="#fff"/><path d="M6 34h28v2.5H6zM5 38.5h30V41H5z" fill="#2eb2d6"/><ellipse cx="20" cy="16.5" rx="5.3" ry="6.8" fill="#e0a78d"/><path d="M17.5 20q2.5 1.8 5 0" stroke="#c0354b" stroke-width="1.3" fill="none"/></g></svg></div></div>
<div style="position:absolute;left:733.5px;top:1642.1px;width:32px;height:32px;border-radius:50%;overflow:hidden;box-sizing:border-box;border:1.5px solid #fff;"><div style="margin:-1.5px"><svg width="32" height="32" viewBox="0 0 40 40" style="display:block"><defs><clipPath id="av14"><circle cx="20" cy="20" r="20"/></clipPath></defs><g clip-path="url(#av14)"><rect width="40" height="40" fill="#9aa0a7"/><path d="M5 40c0-9 6-13 15-13s15 4 15 13z" fill="#262a38"/><path d="M18 27l2 10 2-10z" fill="#e9e9ee"/><ellipse cx="20" cy="17" rx="5.5" ry="7" fill="#d9b099"/><path d="M14.5 15c0-5 2.5-7.5 5.5-7.5s5.5 2.5 5.5 7.5c-1.5-1.5-3.5-2.3-5.5-2.3s-4 .8-5.5 2.3z" fill="#1e1d1f"/></g></svg></div></div>
<div style="position:absolute;left:759.2px;top:1642.1px;width:32px;height:32px;border-radius:50%;overflow:hidden;box-sizing:border-box;border:1.5px solid #fff;"><div style="margin:-1.5px"><svg width="32" height="32" viewBox="0 0 40 40" style="display:block"><defs><clipPath id="av15"><circle cx="20" cy="20" r="20"/></clipPath></defs><g clip-path="url(#av15)"><rect width="40" height="40" fill="#d8ccc0"/><ellipse cx="20" cy="21" rx="11" ry="14" fill="#d7b27c"/><path d="M5 40c0-8 6-11 15-11s15 3 15 11z" fill="#c98a7a"/><ellipse cx="20" cy="18" rx="5.5" ry="7" fill="#ebc6ae"/><path d="M17.5 22q2.5 1.5 5 0" stroke="#c23a4a" stroke-width="1.4" fill="none"/></g></svg></div></div>
<div style="position:absolute;left:784.9px;top:1642.1px;width:32px;height:32px;border-radius:50%;overflow:hidden;box-sizing:border-box;border:1.5px solid #fff;"><div style="margin:-1.5px"><svg width="32" height="32" viewBox="0 0 40 40" style="display:block"><defs><clipPath id="av16"><circle cx="20" cy="20" r="20"/></clipPath></defs><g clip-path="url(#av16)"><rect width="40" height="40" fill="#efefef"/><path d="M6 40c0-9 6-13 14-13s14 4 14 13z" fill="#7b5a3c"/><path d="M17.5 27l2.5 10 2.5-10z" fill="#2a2a30"/><ellipse cx="20" cy="16" rx="5.3" ry="6.8" fill="#c99a7a"/><path d="M14.8 14c0-5 2.5-7 5.2-7s5.2 2 5.2 7c-1.5-1.3-3.2-2-5.2-2s-3.7.7-5.2 2z" fill="#2b2220"/></g></svg></div></div>
<div style="position:absolute;left:974.6px;top:1651.52px;font-size:13.8px;line-height:13.8px;color:#333a4b;white-space:nowrap;">Laravel Admin</div>
<div style="position:absolute;left:1255.8px;top:1651.55px;font-size:14px;line-height:14px;color:#333a4b;white-space:nowrap;letter-spacing:0.45px;">13/05/2020</div>
<div style="position:absolute;left:1471.7px;top:1651.55px;font-size:14px;line-height:14px;color:#333a4b;white-space:nowrap;letter-spacing:0.45px;">03/08/2020</div>
<div style="position:absolute;left:1688.3px;top:1648.9px;width:63.3px;height:18.8px;background:#fdeaea;border-radius:4px;"></div>
<div style="position:absolute;left:1520.0px;width:400px;text-align:center;top:1653.16px;font-size:10.8px;line-height:10.8px;color:#ef5151;white-space:nowrap;-webkit-text-stroke:0.35px #ef5151;">Cancelled</div>
<div style="position:absolute;left:303.5px;top:1709.5px;width:14.6px;height:14.6px;background:#fff;border:1px solid #e3e7ef;border-radius:3px;"></div>
<div style="position:absolute;left:420.0px;top:1710.22px;font-size:13.8px;line-height:13.8px;color:#333a4b;white-space:nowrap;">Cino - Admin</div>
<div style="position:absolute;left:707.8px;top:1700.8px;width:32px;height:32px;border-radius:50%;overflow:hidden;box-sizing:border-box;border:1.5px solid #fff;"><div style="margin:-1.5px"><svg width="32" height="32" viewBox="0 0 40 40" style="display:block"><defs><clipPath id="av17"><circle cx="20" cy="20" r="20"/></clipPath></defs><g clip-path="url(#av17)"><rect width="40" height="40" fill="#4f4f50"/><ellipse cx="18" cy="21" rx="10" ry="15" fill="#1c1919"/><path d="M5 40c0-8 6-11 14-11s14 3 14 11z" fill="#1c2530"/><ellipse cx="21" cy="17" rx="5.3" ry="7" fill="#e1cfc6"/></g></svg></div></div>
<div style="position:absolute;left:733.5px;top:1700.8px;width:32px;height:32px;border-radius:50%;overflow:hidden;box-sizing:border-box;border:1.5px solid #fff;"><div style="margin:-1.5px"><svg width="32" height="32" viewBox="0 0 40 40" style="display:block"><defs><clipPath id="av18"><circle cx="20" cy="20" r="20"/></clipPath></defs><g clip-path="url(#av18)"><rect width="40" height="40" fill="#cfd3da"/><rect x="0" y="0" width="40" height="16" fill="#8d949c"/><ellipse cx="20" cy="27" rx="12" ry="13" fill="#c9a27c"/><ellipse cx="20" cy="42" rx="19" ry="12" fill="#b9bcc4"/><ellipse cx="20" cy="20" rx="6" ry="7.5" fill="#e4b79c"/><path d="M10 17c0-7 4.5-11 10-11s10 4 10 11c-3-2-6.5-3-10-3s-7 1-10 3z" fill="#1d1b1e"/><path d="M17.5 24.5q2.5 1.5 5 0" stroke="#b4485a" stroke-width="1.2" fill="none"/></g></svg></div></div>
<div style="position:absolute;left:759.2px;top:1700.8px;width:32px;height:32px;border-radius:50%;overflow:hidden;box-sizing:border-box;border:1.5px solid #fff;"><div style="margin:-1.5px"><svg width="32" height="32" viewBox="0 0 40 40" style="display:block"><defs><clipPath id="av19"><circle cx="20" cy="20" r="20"/></clipPath></defs><g clip-path="url(#av19)"><rect width="40" height="40" fill="#c98d66"/><path d="M9 40c0-10 4-14 11-14s11 4 11 14z" fill="#f3f3f3"/><ellipse cx="20" cy="16" rx="5" ry="6.3" fill="#a97556"/><path d="M15 13.5c0-4 2-6 5-6s5 2 5 6c-1.5-1-3-1.5-5-1.5s-3.5.5-5 1.5z" fill="#1d1716"/><path d="M16 19c1 3 2.5 4 4 4s3-1 4-4" stroke="#2a1f1b" stroke-width="2" fill="none"/></g></svg></div></div>
<div style="position:absolute;left:784.9px;top:1700.8px;width:32px;height:32px;border-radius:50%;overflow:hidden;box-sizing:border-box;border:1.5px solid #fff;"><div style="margin:-1.5px"><svg width="32" height="32" viewBox="0 0 40 40" style="display:block"><defs><clipPath id="av20"><circle cx="20" cy="20" r="20"/></clipPath></defs><g clip-path="url(#av20)"><rect width="40" height="40" fill="#efefef"/><path d="M6 40c0-9 6-13 14-13s14 4 14 13z" fill="#7b5a3c"/><path d="M17.5 27l2.5 10 2.5-10z" fill="#2a2a30"/><ellipse cx="20" cy="16" rx="5.3" ry="6.8" fill="#c99a7a"/><path d="M14.8 14c0-5 2.5-7 5.2-7s5.2 2 5.2 7c-1.5-1.3-3.2-2-5.2-2s-3.7.7-5.2 2z" fill="#2b2220"/></g></svg></div></div>
<div style="position:absolute;left:974.6px;top:1710.22px;font-size:13.8px;line-height:13.8px;color:#333a4b;white-space:nowrap;">Django Admin</div>
<div style="position:absolute;left:1255.8px;top:1710.25px;font-size:14px;line-height:14px;color:#333a4b;white-space:nowrap;letter-spacing:0.45px;">15/05/2020</div>
<div style="position:absolute;left:1471.7px;top:1710.25px;font-size:14px;line-height:14px;color:#333a4b;white-space:nowrap;letter-spacing:0.45px;">05/08/2020</div>
<div style="position:absolute;left:1688.3px;top:1707.6px;width:68.5px;height:18.8px;background:#e4f8f1;border-radius:4px;"></div>
<div style="position:absolute;left:1522.5px;width:400px;text-align:center;top:1711.86px;font-size:10.8px;line-height:10.8px;color:#1fc28e;white-space:nowrap;-webkit-text-stroke:0.35px #1fc28e;">Completed</div>
<div style="position:absolute;left:303.5px;top:1768.2px;width:14.6px;height:14.6px;background:#4a77ec;border-radius:3px;"></div>
<svg style="position:absolute;left:306.0px;top:1771.0px;" width="10" height="9" viewBox="0 0 10 9" fill="none"><path d="M1.5 4.5l2.5 2.5L8.5 2" stroke="#fff" stroke-width="1.7" stroke-linecap="round" stroke-linejoin="round"/></svg>
<div style="position:absolute;left:420.0px;top:1768.92px;font-size:13.8px;line-height:13.8px;color:#333a4b;white-space:nowrap;">Dashplex - Admin</div>
<div style="position:absolute;left:707.8px;top:1759.5px;width:32px;height:32px;border-radius:50%;overflow:hidden;box-sizing:border-box;border:1.5px solid #fff;"><div style="margin:-1.5px"><svg width="32" height="32" viewBox="0 0 40 40" style="display:block"><defs><clipPath id="av21"><circle cx="20" cy="20" r="20"/></clipPath></defs><g clip-path="url(#av21)"><rect width="40" height="40" fill="#f7a4a4"/><ellipse cx="20" cy="22" rx="9.5" ry="15" fill="#4a2a20"/><path d="M6 40c0-7 6-10 14-10s14 3 14 10z" fill="#fff"/><path d="M6 34h28v2.5H6zM5 38.5h30V41H5z" fill="#2eb2d6"/><ellipse cx="20" cy="16.5" rx="5.3" ry="6.8" fill="#e0a78d"/><path d="M17.5 20q2.5 1.8 5 0" stroke="#c0354b" stroke-width="1.3" fill="none"/></g></svg></div></div>
<div style="position:absolute;left:733.5px;top:1759.5px;width:32px;height:32px;border-radius:50%;overflow:hidden;box-sizing:border-box;border:1.5px solid #fff;"><div style="margin:-1.5px"><svg width="32" height="32" viewBox="0 0 40 40" style="display:block"><defs><clipPath id="av22"><circle cx="20" cy="20" r="20"/></clipPath></defs><g clip-path="url(#av22)"><rect width="40" height="40" fill="#c99bbb"/><ellipse cx="20" cy="22" rx="9.5" ry="14" fill="#2a1a18"/><path d="M5 40c0-8 6-11 15-11s15 3 15 11z" fill="#1c1c28"/><ellipse cx="20" cy="17" rx="5.5" ry="7" fill="#e2b49c"/></g></svg></div></div>
<div style="position:absolute;left:759.2px;top:1759.5px;width:32px;height:32px;border-radius:50%;overflow:hidden;box-sizing:border-box;border:1.5px solid #fff;"><div style="margin:-1.5px"><svg width="32" height="32" viewBox="0 0 40 40" style="display:block"><defs><clipPath id="av23"><circle cx="20" cy="20" r="20"/></clipPath></defs><g clip-path="url(#av23)"><rect width="40" height="40" fill="#ebe7e3"/><ellipse cx="16.5" cy="13" rx="7" ry="7" fill="#2a1c17"/><path d="M8 40c0-10 4-15 10-15s10 5 10 15z" fill="#d8bea4"/><path d="M16 26l2 14 2-14z" fill="#1e1e22"/><ellipse cx="18" cy="17" rx="4.3" ry="5.5" fill="#9c6a4f"/><rect x="25" y="30" width="5" height="7" fill="#cfcfd3"/></g></svg></div></div>
<div style="position:absolute;left:784.9px;top:1759.5px;width:32px;height:32px;border-radius:50%;overflow:hidden;box-sizing:border-box;border:1.5px solid #fff;"><div style="margin:-1.5px"><svg width="32" height="32" viewBox="0 0 40 40" style="display:block"><defs><clipPath id="av24"><circle cx="20" cy="20" r="20"/></clipPath></defs><g clip-path="url(#av24)"><rect width="40" height="40" fill="#d7b13b"/><path d="M7 40c0-9 5-13 13-13s13 4 13 13z" fill="#e32626"/><ellipse cx="20" cy="15" rx="4.8" ry="6.2" fill="#c99474"/><path d="M15.2 13c0-4 2-6 4.8-6s4.8 2 4.8 6c-1.4-1.2-3-1.8-4.8-1.8s-3.4.6-4.8 1.8z" fill="#1c1816"/></g></svg></div></div>
<div style="position:absolute;left:974.6px;top:1768.92px;font-size:13.8px;line-height:13.8px;color:#333a4b;white-space:nowrap;">Bootstrap Admin</div>
<div style="position:absolute;left:1255.8px;top:1768.95px;font-size:14px;line-height:14px;color:#333a4b;white-space:nowrap;letter-spacing:0.45px;">16/05/2020</div>
<div style="position:absolute;left:1471.7px;top:1768.95px;font-size:14px;line-height:14px;color:#333a4b;white-space:nowrap;letter-spacing:0.45px;">07/08/2020</div>
<div style="position:absolute;left:1688.3px;top:1766.3px;width:37.5px;height:18.8px;background:#ecf0fd;border-radius:4px;"></div>
<div style="position:absolute;left:1507.0px;width:400px;text-align:center;top:1770.56px;font-size:10.8px;line-height:10.8px;color:#4a6ff0;white-space:nowrap;-webkit-text-stroke:0.35px #4a6ff0;">Hold</div>
<div style="position:absolute;left:290.4px;top:1820.40px;font-size:14px;line-height:14px;color:#333a4b;white-space:nowrap;">Showing 1 to 4 of 4 entries</div>
<div style="position:absolute;left:1734.2px;top:1821.92px;font-size:13.5px;line-height:13.5px;color:#8c95a6;white-space:nowrap;">Prev</div>
<div style="position:absolute;left:1770.3px;top:1813.2px;width:31.4px;height:30.8px;background:#4a77ec;border-radius:6px;"></div>
<div style="position:absolute;left:1586.0px;width:400px;text-align:center;top:1821.92px;font-size:13.5px;line-height:13.5px;color:#fff;white-space:nowrap;">1</div>
<div style="position:absolute;left:1617.5px;width:400px;text-align:center;top:1821.92px;font-size:13.5px;line-height:13.5px;color:#333a4b;white-space:nowrap;">2</div>
<div style="position:absolute;left:1843.5px;top:1821.92px;font-size:13.5px;line-height:13.5px;color:#4a77ec;white-space:nowrap;">next</div>
<!-- footer -->
<div style="position:absolute;left:250.0px;top:1887.0px;width:1670.0px;height:54.0px;background:#fff;"></div>
<div style="position:absolute;left:851.5px;top:1907.80px;font-size:14px;line-height:14px;color:#333a4b;white-space:nowrap;">Copyright &copy; 2024 <span style="color:#4a6ff0">Dashlot</span>. Designed with<svg style="display:inline-block;vertical-align:-2px;margin:0 4px 0 4px" width="15" height="13" viewBox="0 0 16 14"><path d="M8 13.3C3.5 10 .8 7.4.8 4.4A3.7 3.7 0 0 1 8 3a3.7 3.7 0 0 1 7.2 1.4c0 3-2.7 5.6-7.2 8.9z" fill="#f0534f"/></svg>by <span style="color:#4a6ff0">Spruko</span> All rights reserved.</div>
<div style="position:absolute;left:1849.8px;top:1870.7px;width:50px;height:50px;border-radius:50%;background:#4a77ec;box-shadow:0 2px 6px rgba(74,119,236,0.25);"></div>
<svg style="position:absolute;left:1868.5px;top:1888.0px;" width="13" height="13" viewBox="0 0 13 13" fill="none"><path d="M1.5 6.5L6.5 1.5l5 5M1.5 11.5l5-5 5 5" stroke="#fff" stroke-width="1.7" stroke-linecap="round" stroke-linejoin="round"/></svg>
</body></html>
